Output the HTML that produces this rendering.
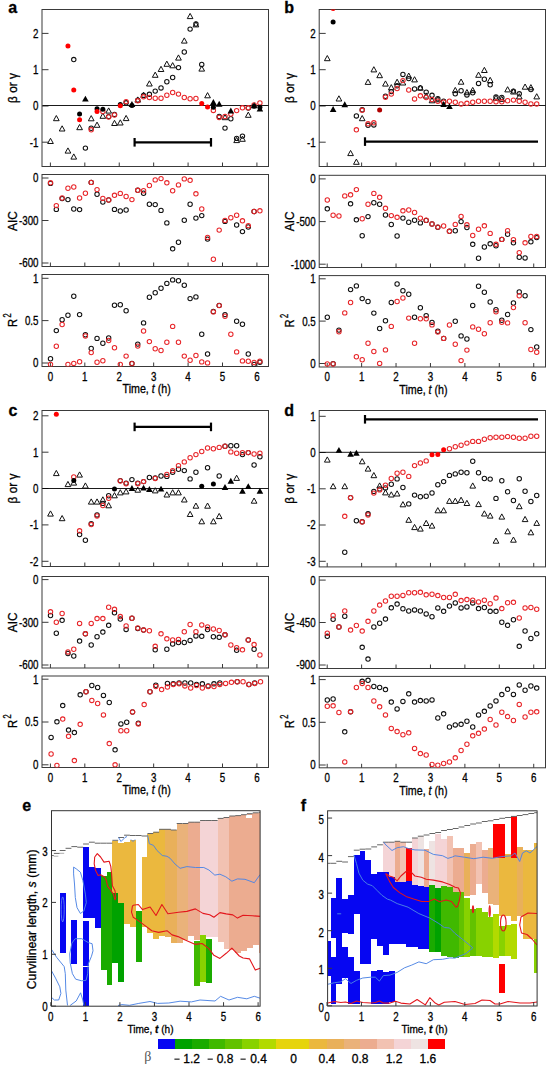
<!DOCTYPE html>
<html><head><meta charset="utf-8"><style>
html,body{margin:0;padding:0;background:#fff;}
svg{display:block;}
text{stroke:#000;stroke-width:0.3px;}
</style></head><body>
<svg width="549" height="1066" viewBox="0 0 549 1066">
<rect width="549" height="1066" fill="#fff"/>
<text x="8.20" y="13.20" font-family="Liberation Sans" font-size="16" text-anchor="start" font-weight="bold" fill="#000" >a</text>
<text x="284.20" y="13.20" font-family="Liberation Sans" font-size="16" text-anchor="start" font-weight="bold" fill="#000" >b</text>
<text x="8.40" y="415.50" font-family="Liberation Sans" font-size="16" text-anchor="start" font-weight="bold" fill="#000" >c</text>
<text x="284.30" y="415.50" font-family="Liberation Sans" font-size="16" text-anchor="start" font-weight="bold" fill="#000" >d</text>
<rect x="42.0" y="9.5" width="226.5" height="157.0" fill="none" stroke="#3a3a3a" stroke-width="1"/>
<line x1="42.00" y1="33.40" x2="48.50" y2="33.40" stroke="#3a3a3a" stroke-width="1" stroke-linecap="butt"/>
<text transform="translate(38.50,37.80) scale(0.8,1)" font-family="Liberation Sans" font-size="12.2" text-anchor="end" font-weight="normal" fill="#000" >2</text>
<line x1="42.00" y1="69.70" x2="48.50" y2="69.70" stroke="#3a3a3a" stroke-width="1" stroke-linecap="butt"/>
<text transform="translate(38.50,74.10) scale(0.8,1)" font-family="Liberation Sans" font-size="12.2" text-anchor="end" font-weight="normal" fill="#000" >1</text>
<line x1="42.00" y1="106.00" x2="48.50" y2="106.00" stroke="#3a3a3a" stroke-width="1" stroke-linecap="butt"/>
<text transform="translate(38.50,110.40) scale(0.8,1)" font-family="Liberation Sans" font-size="12.2" text-anchor="end" font-weight="normal" fill="#000" >0</text>
<line x1="42.00" y1="142.20" x2="48.50" y2="142.20" stroke="#3a3a3a" stroke-width="1" stroke-linecap="butt"/>
<text transform="translate(38.50,146.60) scale(0.8,1)" font-family="Liberation Sans" font-size="12.2" text-anchor="end" font-weight="normal" fill="#000" >-1</text>
<line x1="50.40" y1="166.50" x2="50.40" y2="162.50" stroke="#3a3a3a" stroke-width="1" stroke-linecap="butt"/>
<line x1="84.82" y1="166.50" x2="84.82" y2="162.50" stroke="#3a3a3a" stroke-width="1" stroke-linecap="butt"/>
<line x1="119.24" y1="166.50" x2="119.24" y2="162.50" stroke="#3a3a3a" stroke-width="1" stroke-linecap="butt"/>
<line x1="153.66" y1="166.50" x2="153.66" y2="162.50" stroke="#3a3a3a" stroke-width="1" stroke-linecap="butt"/>
<line x1="188.08" y1="166.50" x2="188.08" y2="162.50" stroke="#3a3a3a" stroke-width="1" stroke-linecap="butt"/>
<line x1="222.50" y1="166.50" x2="222.50" y2="162.50" stroke="#3a3a3a" stroke-width="1" stroke-linecap="butt"/>
<line x1="256.92" y1="166.50" x2="256.92" y2="162.50" stroke="#3a3a3a" stroke-width="1" stroke-linecap="butt"/>
<rect x="42.0" y="174.5" width="226.5" height="92.0" fill="none" stroke="#3a3a3a" stroke-width="1"/>
<line x1="42.00" y1="178.00" x2="48.50" y2="178.00" stroke="#3a3a3a" stroke-width="1" stroke-linecap="butt"/>
<text transform="translate(38.50,182.40) scale(0.8,1)" font-family="Liberation Sans" font-size="12.2" text-anchor="end" font-weight="normal" fill="#000" >0</text>
<line x1="42.00" y1="220.50" x2="48.50" y2="220.50" stroke="#3a3a3a" stroke-width="1" stroke-linecap="butt"/>
<text transform="translate(38.50,224.90) scale(0.8,1)" font-family="Liberation Sans" font-size="12.2" text-anchor="end" font-weight="normal" fill="#000" >-300</text>
<line x1="42.00" y1="263.00" x2="48.50" y2="263.00" stroke="#3a3a3a" stroke-width="1" stroke-linecap="butt"/>
<text transform="translate(38.50,267.40) scale(0.8,1)" font-family="Liberation Sans" font-size="12.2" text-anchor="end" font-weight="normal" fill="#000" >-600</text>
<line x1="50.40" y1="266.50" x2="50.40" y2="262.50" stroke="#3a3a3a" stroke-width="1" stroke-linecap="butt"/>
<line x1="84.82" y1="266.50" x2="84.82" y2="262.50" stroke="#3a3a3a" stroke-width="1" stroke-linecap="butt"/>
<line x1="119.24" y1="266.50" x2="119.24" y2="262.50" stroke="#3a3a3a" stroke-width="1" stroke-linecap="butt"/>
<line x1="153.66" y1="266.50" x2="153.66" y2="262.50" stroke="#3a3a3a" stroke-width="1" stroke-linecap="butt"/>
<line x1="188.08" y1="266.50" x2="188.08" y2="262.50" stroke="#3a3a3a" stroke-width="1" stroke-linecap="butt"/>
<line x1="222.50" y1="266.50" x2="222.50" y2="262.50" stroke="#3a3a3a" stroke-width="1" stroke-linecap="butt"/>
<line x1="256.92" y1="266.50" x2="256.92" y2="262.50" stroke="#3a3a3a" stroke-width="1" stroke-linecap="butt"/>
<rect x="42.0" y="274.5" width="226.5" height="92.0" fill="none" stroke="#3a3a3a" stroke-width="1"/>
<line x1="42.00" y1="278.30" x2="48.50" y2="278.30" stroke="#3a3a3a" stroke-width="1" stroke-linecap="butt"/>
<text transform="translate(38.50,282.70) scale(0.8,1)" font-family="Liberation Sans" font-size="12.2" text-anchor="end" font-weight="normal" fill="#000" >1</text>
<line x1="42.00" y1="320.60" x2="48.50" y2="320.60" stroke="#3a3a3a" stroke-width="1" stroke-linecap="butt"/>
<text transform="translate(38.50,325.00) scale(0.8,1)" font-family="Liberation Sans" font-size="12.2" text-anchor="end" font-weight="normal" fill="#000" >0.5</text>
<line x1="42.00" y1="363.00" x2="48.50" y2="363.00" stroke="#3a3a3a" stroke-width="1" stroke-linecap="butt"/>
<text transform="translate(38.50,367.40) scale(0.8,1)" font-family="Liberation Sans" font-size="12.2" text-anchor="end" font-weight="normal" fill="#000" >0</text>
<line x1="50.40" y1="366.50" x2="50.40" y2="362.50" stroke="#3a3a3a" stroke-width="1" stroke-linecap="butt"/>
<line x1="84.82" y1="366.50" x2="84.82" y2="362.50" stroke="#3a3a3a" stroke-width="1" stroke-linecap="butt"/>
<line x1="119.24" y1="366.50" x2="119.24" y2="362.50" stroke="#3a3a3a" stroke-width="1" stroke-linecap="butt"/>
<line x1="153.66" y1="366.50" x2="153.66" y2="362.50" stroke="#3a3a3a" stroke-width="1" stroke-linecap="butt"/>
<line x1="188.08" y1="366.50" x2="188.08" y2="362.50" stroke="#3a3a3a" stroke-width="1" stroke-linecap="butt"/>
<line x1="222.50" y1="366.50" x2="222.50" y2="362.50" stroke="#3a3a3a" stroke-width="1" stroke-linecap="butt"/>
<line x1="256.92" y1="366.50" x2="256.92" y2="362.50" stroke="#3a3a3a" stroke-width="1" stroke-linecap="butt"/>
<text transform="translate(50.40,380.50) scale(0.8,1)" font-family="Liberation Sans" font-size="12.2" text-anchor="middle" font-weight="normal" fill="#000" >0</text>
<text transform="translate(84.82,380.50) scale(0.8,1)" font-family="Liberation Sans" font-size="12.2" text-anchor="middle" font-weight="normal" fill="#000" >1</text>
<text transform="translate(119.24,380.50) scale(0.8,1)" font-family="Liberation Sans" font-size="12.2" text-anchor="middle" font-weight="normal" fill="#000" >2</text>
<text transform="translate(153.66,380.50) scale(0.8,1)" font-family="Liberation Sans" font-size="12.2" text-anchor="middle" font-weight="normal" fill="#000" >3</text>
<text transform="translate(188.08,380.50) scale(0.8,1)" font-family="Liberation Sans" font-size="12.2" text-anchor="middle" font-weight="normal" fill="#000" >4</text>
<text transform="translate(222.50,380.50) scale(0.8,1)" font-family="Liberation Sans" font-size="12.2" text-anchor="middle" font-weight="normal" fill="#000" >5</text>
<text transform="translate(256.92,380.50) scale(0.8,1)" font-family="Liberation Sans" font-size="12.2" text-anchor="middle" font-weight="normal" fill="#000" >6</text>
<text transform="translate(146.66,393.30) scale(0.89,1)" font-family="Liberation Sans" font-size="12" text-anchor="middle">Time, <tspan font-style="italic">t</tspan> (h)</text>
<text transform="translate(17.30,88.00) rotate(-90) scale(0.88,1)" font-family="Liberation Sans" font-size="13.5" text-anchor="middle">β or γ</text>
<text transform="translate(17.20,221.00) rotate(-90) scale(0.88,1)" font-family="Liberation Sans" font-size="13.5" text-anchor="middle">AIC</text>
<text transform="translate(16.80,326.90) rotate(-90) scale(0.83,1)" font-family="Liberation Sans" font-size="13.5">R</text>
<text transform="translate(10.90,317.40) rotate(-90) scale(0.68,1)" font-family="Liberation Sans" font-size="11">2</text>
<rect x="319.2" y="9.5" width="226.3" height="157.0" fill="none" stroke="#3a3a3a" stroke-width="1"/>
<line x1="319.20" y1="33.40" x2="325.70" y2="33.40" stroke="#3a3a3a" stroke-width="1" stroke-linecap="butt"/>
<text transform="translate(315.70,37.80) scale(0.8,1)" font-family="Liberation Sans" font-size="12.2" text-anchor="end" font-weight="normal" fill="#000" >2</text>
<line x1="319.20" y1="69.70" x2="325.70" y2="69.70" stroke="#3a3a3a" stroke-width="1" stroke-linecap="butt"/>
<text transform="translate(315.70,74.10) scale(0.8,1)" font-family="Liberation Sans" font-size="12.2" text-anchor="end" font-weight="normal" fill="#000" >1</text>
<line x1="319.20" y1="106.00" x2="325.70" y2="106.00" stroke="#3a3a3a" stroke-width="1" stroke-linecap="butt"/>
<text transform="translate(315.70,110.40) scale(0.8,1)" font-family="Liberation Sans" font-size="12.2" text-anchor="end" font-weight="normal" fill="#000" >0</text>
<line x1="319.20" y1="142.20" x2="325.70" y2="142.20" stroke="#3a3a3a" stroke-width="1" stroke-linecap="butt"/>
<text transform="translate(315.70,146.60) scale(0.8,1)" font-family="Liberation Sans" font-size="12.2" text-anchor="end" font-weight="normal" fill="#000" >-1</text>
<line x1="327.20" y1="166.50" x2="327.20" y2="162.50" stroke="#3a3a3a" stroke-width="1" stroke-linecap="butt"/>
<line x1="361.62" y1="166.50" x2="361.62" y2="162.50" stroke="#3a3a3a" stroke-width="1" stroke-linecap="butt"/>
<line x1="396.04" y1="166.50" x2="396.04" y2="162.50" stroke="#3a3a3a" stroke-width="1" stroke-linecap="butt"/>
<line x1="430.46" y1="166.50" x2="430.46" y2="162.50" stroke="#3a3a3a" stroke-width="1" stroke-linecap="butt"/>
<line x1="464.88" y1="166.50" x2="464.88" y2="162.50" stroke="#3a3a3a" stroke-width="1" stroke-linecap="butt"/>
<line x1="499.30" y1="166.50" x2="499.30" y2="162.50" stroke="#3a3a3a" stroke-width="1" stroke-linecap="butt"/>
<line x1="533.72" y1="166.50" x2="533.72" y2="162.50" stroke="#3a3a3a" stroke-width="1" stroke-linecap="butt"/>
<rect x="319.2" y="175.3" width="226.3" height="92.19999999999999" fill="none" stroke="#3a3a3a" stroke-width="1"/>
<line x1="319.20" y1="178.90" x2="325.70" y2="178.90" stroke="#3a3a3a" stroke-width="1" stroke-linecap="butt"/>
<text transform="translate(315.70,183.30) scale(0.8,1)" font-family="Liberation Sans" font-size="12.2" text-anchor="end" font-weight="normal" fill="#000" >0</text>
<line x1="319.20" y1="221.60" x2="325.70" y2="221.60" stroke="#3a3a3a" stroke-width="1" stroke-linecap="butt"/>
<text transform="translate(315.70,226.00) scale(0.8,1)" font-family="Liberation Sans" font-size="12.2" text-anchor="end" font-weight="normal" fill="#000" >-500</text>
<line x1="319.20" y1="264.20" x2="325.70" y2="264.20" stroke="#3a3a3a" stroke-width="1" stroke-linecap="butt"/>
<text transform="translate(315.70,268.60) scale(0.8,1)" font-family="Liberation Sans" font-size="12.2" text-anchor="end" font-weight="normal" fill="#000" >-1000</text>
<line x1="327.20" y1="267.50" x2="327.20" y2="263.50" stroke="#3a3a3a" stroke-width="1" stroke-linecap="butt"/>
<line x1="361.62" y1="267.50" x2="361.62" y2="263.50" stroke="#3a3a3a" stroke-width="1" stroke-linecap="butt"/>
<line x1="396.04" y1="267.50" x2="396.04" y2="263.50" stroke="#3a3a3a" stroke-width="1" stroke-linecap="butt"/>
<line x1="430.46" y1="267.50" x2="430.46" y2="263.50" stroke="#3a3a3a" stroke-width="1" stroke-linecap="butt"/>
<line x1="464.88" y1="267.50" x2="464.88" y2="263.50" stroke="#3a3a3a" stroke-width="1" stroke-linecap="butt"/>
<line x1="499.30" y1="267.50" x2="499.30" y2="263.50" stroke="#3a3a3a" stroke-width="1" stroke-linecap="butt"/>
<line x1="533.72" y1="267.50" x2="533.72" y2="263.50" stroke="#3a3a3a" stroke-width="1" stroke-linecap="butt"/>
<rect x="319.2" y="275.6" width="226.3" height="91.39999999999998" fill="none" stroke="#3a3a3a" stroke-width="1"/>
<line x1="319.20" y1="278.80" x2="325.70" y2="278.80" stroke="#3a3a3a" stroke-width="1" stroke-linecap="butt"/>
<text transform="translate(315.70,283.20) scale(0.8,1)" font-family="Liberation Sans" font-size="12.2" text-anchor="end" font-weight="normal" fill="#000" >1</text>
<line x1="319.20" y1="321.10" x2="325.70" y2="321.10" stroke="#3a3a3a" stroke-width="1" stroke-linecap="butt"/>
<text transform="translate(315.70,325.50) scale(0.8,1)" font-family="Liberation Sans" font-size="12.2" text-anchor="end" font-weight="normal" fill="#000" >0.5</text>
<line x1="319.20" y1="363.50" x2="325.70" y2="363.50" stroke="#3a3a3a" stroke-width="1" stroke-linecap="butt"/>
<text transform="translate(315.70,367.90) scale(0.8,1)" font-family="Liberation Sans" font-size="12.2" text-anchor="end" font-weight="normal" fill="#000" >0</text>
<line x1="327.20" y1="367.00" x2="327.20" y2="363.00" stroke="#3a3a3a" stroke-width="1" stroke-linecap="butt"/>
<line x1="361.62" y1="367.00" x2="361.62" y2="363.00" stroke="#3a3a3a" stroke-width="1" stroke-linecap="butt"/>
<line x1="396.04" y1="367.00" x2="396.04" y2="363.00" stroke="#3a3a3a" stroke-width="1" stroke-linecap="butt"/>
<line x1="430.46" y1="367.00" x2="430.46" y2="363.00" stroke="#3a3a3a" stroke-width="1" stroke-linecap="butt"/>
<line x1="464.88" y1="367.00" x2="464.88" y2="363.00" stroke="#3a3a3a" stroke-width="1" stroke-linecap="butt"/>
<line x1="499.30" y1="367.00" x2="499.30" y2="363.00" stroke="#3a3a3a" stroke-width="1" stroke-linecap="butt"/>
<line x1="533.72" y1="367.00" x2="533.72" y2="363.00" stroke="#3a3a3a" stroke-width="1" stroke-linecap="butt"/>
<text transform="translate(327.20,381.00) scale(0.8,1)" font-family="Liberation Sans" font-size="12.2" text-anchor="middle" font-weight="normal" fill="#000" >0</text>
<text transform="translate(361.62,381.00) scale(0.8,1)" font-family="Liberation Sans" font-size="12.2" text-anchor="middle" font-weight="normal" fill="#000" >1</text>
<text transform="translate(396.04,381.00) scale(0.8,1)" font-family="Liberation Sans" font-size="12.2" text-anchor="middle" font-weight="normal" fill="#000" >2</text>
<text transform="translate(430.46,381.00) scale(0.8,1)" font-family="Liberation Sans" font-size="12.2" text-anchor="middle" font-weight="normal" fill="#000" >3</text>
<text transform="translate(464.88,381.00) scale(0.8,1)" font-family="Liberation Sans" font-size="12.2" text-anchor="middle" font-weight="normal" fill="#000" >4</text>
<text transform="translate(499.30,381.00) scale(0.8,1)" font-family="Liberation Sans" font-size="12.2" text-anchor="middle" font-weight="normal" fill="#000" >5</text>
<text transform="translate(533.72,381.00) scale(0.8,1)" font-family="Liberation Sans" font-size="12.2" text-anchor="middle" font-weight="normal" fill="#000" >6</text>
<text transform="translate(423.46,393.80) scale(0.89,1)" font-family="Liberation Sans" font-size="12" text-anchor="middle">Time, <tspan font-style="italic">t</tspan> (h)</text>
<text transform="translate(294.20,88.00) rotate(-90) scale(0.88,1)" font-family="Liberation Sans" font-size="13.5" text-anchor="middle">β or γ</text>
<text transform="translate(294.10,221.30) rotate(-90) scale(0.88,1)" font-family="Liberation Sans" font-size="13.5" text-anchor="middle">AIC</text>
<text transform="translate(293.70,327.40) rotate(-90) scale(0.83,1)" font-family="Liberation Sans" font-size="13.5">R</text>
<text transform="translate(287.80,317.90) rotate(-90) scale(0.68,1)" font-family="Liberation Sans" font-size="11">2</text>
<rect x="42.0" y="410.5" width="226.5" height="156.0" fill="none" stroke="#3a3a3a" stroke-width="1"/>
<line x1="42.00" y1="415.80" x2="48.50" y2="415.80" stroke="#3a3a3a" stroke-width="1" stroke-linecap="butt"/>
<text transform="translate(38.50,420.20) scale(0.8,1)" font-family="Liberation Sans" font-size="12.2" text-anchor="end" font-weight="normal" fill="#000" >2</text>
<line x1="42.00" y1="452.20" x2="48.50" y2="452.20" stroke="#3a3a3a" stroke-width="1" stroke-linecap="butt"/>
<text transform="translate(38.50,456.60) scale(0.8,1)" font-family="Liberation Sans" font-size="12.2" text-anchor="end" font-weight="normal" fill="#000" >1</text>
<line x1="42.00" y1="488.50" x2="48.50" y2="488.50" stroke="#3a3a3a" stroke-width="1" stroke-linecap="butt"/>
<text transform="translate(38.50,492.90) scale(0.8,1)" font-family="Liberation Sans" font-size="12.2" text-anchor="end" font-weight="normal" fill="#000" >0</text>
<line x1="42.00" y1="524.90" x2="48.50" y2="524.90" stroke="#3a3a3a" stroke-width="1" stroke-linecap="butt"/>
<text transform="translate(38.50,529.30) scale(0.8,1)" font-family="Liberation Sans" font-size="12.2" text-anchor="end" font-weight="normal" fill="#000" >-1</text>
<line x1="42.00" y1="561.30" x2="48.50" y2="561.30" stroke="#3a3a3a" stroke-width="1" stroke-linecap="butt"/>
<text transform="translate(38.50,565.70) scale(0.8,1)" font-family="Liberation Sans" font-size="12.2" text-anchor="end" font-weight="normal" fill="#000" >-2</text>
<line x1="50.40" y1="566.50" x2="50.40" y2="562.50" stroke="#3a3a3a" stroke-width="1" stroke-linecap="butt"/>
<line x1="84.82" y1="566.50" x2="84.82" y2="562.50" stroke="#3a3a3a" stroke-width="1" stroke-linecap="butt"/>
<line x1="119.24" y1="566.50" x2="119.24" y2="562.50" stroke="#3a3a3a" stroke-width="1" stroke-linecap="butt"/>
<line x1="153.66" y1="566.50" x2="153.66" y2="562.50" stroke="#3a3a3a" stroke-width="1" stroke-linecap="butt"/>
<line x1="188.08" y1="566.50" x2="188.08" y2="562.50" stroke="#3a3a3a" stroke-width="1" stroke-linecap="butt"/>
<line x1="222.50" y1="566.50" x2="222.50" y2="562.50" stroke="#3a3a3a" stroke-width="1" stroke-linecap="butt"/>
<line x1="256.92" y1="566.50" x2="256.92" y2="562.50" stroke="#3a3a3a" stroke-width="1" stroke-linecap="butt"/>
<rect x="42.0" y="576.5" width="226.5" height="91.5" fill="none" stroke="#3a3a3a" stroke-width="1"/>
<line x1="42.00" y1="579.60" x2="48.50" y2="579.60" stroke="#3a3a3a" stroke-width="1" stroke-linecap="butt"/>
<text transform="translate(38.50,584.00) scale(0.8,1)" font-family="Liberation Sans" font-size="12.2" text-anchor="end" font-weight="normal" fill="#000" >0</text>
<line x1="42.00" y1="622.30" x2="48.50" y2="622.30" stroke="#3a3a3a" stroke-width="1" stroke-linecap="butt"/>
<text transform="translate(38.50,626.70) scale(0.8,1)" font-family="Liberation Sans" font-size="12.2" text-anchor="end" font-weight="normal" fill="#000" >-300</text>
<line x1="42.00" y1="665.00" x2="48.50" y2="665.00" stroke="#3a3a3a" stroke-width="1" stroke-linecap="butt"/>
<text transform="translate(38.50,669.40) scale(0.8,1)" font-family="Liberation Sans" font-size="12.2" text-anchor="end" font-weight="normal" fill="#000" >-600</text>
<line x1="50.40" y1="668.00" x2="50.40" y2="664.00" stroke="#3a3a3a" stroke-width="1" stroke-linecap="butt"/>
<line x1="84.82" y1="668.00" x2="84.82" y2="664.00" stroke="#3a3a3a" stroke-width="1" stroke-linecap="butt"/>
<line x1="119.24" y1="668.00" x2="119.24" y2="664.00" stroke="#3a3a3a" stroke-width="1" stroke-linecap="butt"/>
<line x1="153.66" y1="668.00" x2="153.66" y2="664.00" stroke="#3a3a3a" stroke-width="1" stroke-linecap="butt"/>
<line x1="188.08" y1="668.00" x2="188.08" y2="664.00" stroke="#3a3a3a" stroke-width="1" stroke-linecap="butt"/>
<line x1="222.50" y1="668.00" x2="222.50" y2="664.00" stroke="#3a3a3a" stroke-width="1" stroke-linecap="butt"/>
<line x1="256.92" y1="668.00" x2="256.92" y2="664.00" stroke="#3a3a3a" stroke-width="1" stroke-linecap="butt"/>
<rect x="42.0" y="676" width="226.5" height="91.5" fill="none" stroke="#3a3a3a" stroke-width="1"/>
<line x1="42.00" y1="679.20" x2="48.50" y2="679.20" stroke="#3a3a3a" stroke-width="1" stroke-linecap="butt"/>
<text transform="translate(38.50,683.60) scale(0.8,1)" font-family="Liberation Sans" font-size="12.2" text-anchor="end" font-weight="normal" fill="#000" >1</text>
<line x1="42.00" y1="722.00" x2="48.50" y2="722.00" stroke="#3a3a3a" stroke-width="1" stroke-linecap="butt"/>
<text transform="translate(38.50,726.40) scale(0.8,1)" font-family="Liberation Sans" font-size="12.2" text-anchor="end" font-weight="normal" fill="#000" >0.5</text>
<line x1="42.00" y1="764.80" x2="48.50" y2="764.80" stroke="#3a3a3a" stroke-width="1" stroke-linecap="butt"/>
<text transform="translate(38.50,769.20) scale(0.8,1)" font-family="Liberation Sans" font-size="12.2" text-anchor="end" font-weight="normal" fill="#000" >0</text>
<line x1="50.40" y1="767.50" x2="50.40" y2="763.50" stroke="#3a3a3a" stroke-width="1" stroke-linecap="butt"/>
<line x1="84.82" y1="767.50" x2="84.82" y2="763.50" stroke="#3a3a3a" stroke-width="1" stroke-linecap="butt"/>
<line x1="119.24" y1="767.50" x2="119.24" y2="763.50" stroke="#3a3a3a" stroke-width="1" stroke-linecap="butt"/>
<line x1="153.66" y1="767.50" x2="153.66" y2="763.50" stroke="#3a3a3a" stroke-width="1" stroke-linecap="butt"/>
<line x1="188.08" y1="767.50" x2="188.08" y2="763.50" stroke="#3a3a3a" stroke-width="1" stroke-linecap="butt"/>
<line x1="222.50" y1="767.50" x2="222.50" y2="763.50" stroke="#3a3a3a" stroke-width="1" stroke-linecap="butt"/>
<line x1="256.92" y1="767.50" x2="256.92" y2="763.50" stroke="#3a3a3a" stroke-width="1" stroke-linecap="butt"/>
<text transform="translate(50.40,781.50) scale(0.8,1)" font-family="Liberation Sans" font-size="12.2" text-anchor="middle" font-weight="normal" fill="#000" >0</text>
<text transform="translate(84.82,781.50) scale(0.8,1)" font-family="Liberation Sans" font-size="12.2" text-anchor="middle" font-weight="normal" fill="#000" >1</text>
<text transform="translate(119.24,781.50) scale(0.8,1)" font-family="Liberation Sans" font-size="12.2" text-anchor="middle" font-weight="normal" fill="#000" >2</text>
<text transform="translate(153.66,781.50) scale(0.8,1)" font-family="Liberation Sans" font-size="12.2" text-anchor="middle" font-weight="normal" fill="#000" >3</text>
<text transform="translate(188.08,781.50) scale(0.8,1)" font-family="Liberation Sans" font-size="12.2" text-anchor="middle" font-weight="normal" fill="#000" >4</text>
<text transform="translate(222.50,781.50) scale(0.8,1)" font-family="Liberation Sans" font-size="12.2" text-anchor="middle" font-weight="normal" fill="#000" >5</text>
<text transform="translate(256.92,781.50) scale(0.8,1)" font-family="Liberation Sans" font-size="12.2" text-anchor="middle" font-weight="normal" fill="#000" >6</text>
<text transform="translate(146.66,794.30) scale(0.89,1)" font-family="Liberation Sans" font-size="12" text-anchor="middle">Time, <tspan font-style="italic">t</tspan> (h)</text>
<text transform="translate(17.30,488.50) rotate(-90) scale(0.88,1)" font-family="Liberation Sans" font-size="13.5" text-anchor="middle">β or γ</text>
<text transform="translate(17.20,622.30) rotate(-90) scale(0.88,1)" font-family="Liberation Sans" font-size="13.5" text-anchor="middle">AIC</text>
<text transform="translate(16.80,727.90) rotate(-90) scale(0.83,1)" font-family="Liberation Sans" font-size="13.5">R</text>
<text transform="translate(10.90,718.40) rotate(-90) scale(0.68,1)" font-family="Liberation Sans" font-size="11">2</text>
<rect x="319.2" y="410.5" width="226.3" height="156.39999999999998" fill="none" stroke="#3a3a3a" stroke-width="1"/>
<line x1="319.20" y1="416.30" x2="325.70" y2="416.30" stroke="#3a3a3a" stroke-width="1" stroke-linecap="butt"/>
<text transform="translate(315.70,420.70) scale(0.8,1)" font-family="Liberation Sans" font-size="12.2" text-anchor="end" font-weight="normal" fill="#000" >1</text>
<line x1="319.20" y1="452.50" x2="325.70" y2="452.50" stroke="#3a3a3a" stroke-width="1" stroke-linecap="butt"/>
<text transform="translate(315.70,456.90) scale(0.8,1)" font-family="Liberation Sans" font-size="12.2" text-anchor="end" font-weight="normal" fill="#000" >0</text>
<line x1="319.20" y1="488.80" x2="325.70" y2="488.80" stroke="#3a3a3a" stroke-width="1" stroke-linecap="butt"/>
<text transform="translate(315.70,493.20) scale(0.8,1)" font-family="Liberation Sans" font-size="12.2" text-anchor="end" font-weight="normal" fill="#000" >-1</text>
<line x1="319.20" y1="525.00" x2="325.70" y2="525.00" stroke="#3a3a3a" stroke-width="1" stroke-linecap="butt"/>
<text transform="translate(315.70,529.40) scale(0.8,1)" font-family="Liberation Sans" font-size="12.2" text-anchor="end" font-weight="normal" fill="#000" >-2</text>
<line x1="319.20" y1="561.30" x2="325.70" y2="561.30" stroke="#3a3a3a" stroke-width="1" stroke-linecap="butt"/>
<text transform="translate(315.70,565.70) scale(0.8,1)" font-family="Liberation Sans" font-size="12.2" text-anchor="end" font-weight="normal" fill="#000" >-3</text>
<line x1="327.20" y1="566.90" x2="327.20" y2="562.90" stroke="#3a3a3a" stroke-width="1" stroke-linecap="butt"/>
<line x1="361.62" y1="566.90" x2="361.62" y2="562.90" stroke="#3a3a3a" stroke-width="1" stroke-linecap="butt"/>
<line x1="396.04" y1="566.90" x2="396.04" y2="562.90" stroke="#3a3a3a" stroke-width="1" stroke-linecap="butt"/>
<line x1="430.46" y1="566.90" x2="430.46" y2="562.90" stroke="#3a3a3a" stroke-width="1" stroke-linecap="butt"/>
<line x1="464.88" y1="566.90" x2="464.88" y2="562.90" stroke="#3a3a3a" stroke-width="1" stroke-linecap="butt"/>
<line x1="499.30" y1="566.90" x2="499.30" y2="562.90" stroke="#3a3a3a" stroke-width="1" stroke-linecap="butt"/>
<line x1="533.72" y1="566.90" x2="533.72" y2="562.90" stroke="#3a3a3a" stroke-width="1" stroke-linecap="butt"/>
<rect x="319.2" y="576.6" width="226.3" height="91.89999999999998" fill="none" stroke="#3a3a3a" stroke-width="1"/>
<line x1="319.20" y1="580.10" x2="325.70" y2="580.10" stroke="#3a3a3a" stroke-width="1" stroke-linecap="butt"/>
<text transform="translate(315.70,584.50) scale(0.8,1)" font-family="Liberation Sans" font-size="12.2" text-anchor="end" font-weight="normal" fill="#000" >0</text>
<line x1="319.20" y1="622.50" x2="325.70" y2="622.50" stroke="#3a3a3a" stroke-width="1" stroke-linecap="butt"/>
<text transform="translate(315.70,626.90) scale(0.8,1)" font-family="Liberation Sans" font-size="12.2" text-anchor="end" font-weight="normal" fill="#000" >-450</text>
<line x1="319.20" y1="665.00" x2="325.70" y2="665.00" stroke="#3a3a3a" stroke-width="1" stroke-linecap="butt"/>
<text transform="translate(315.70,669.40) scale(0.8,1)" font-family="Liberation Sans" font-size="12.2" text-anchor="end" font-weight="normal" fill="#000" >-900</text>
<line x1="327.20" y1="668.50" x2="327.20" y2="664.50" stroke="#3a3a3a" stroke-width="1" stroke-linecap="butt"/>
<line x1="361.62" y1="668.50" x2="361.62" y2="664.50" stroke="#3a3a3a" stroke-width="1" stroke-linecap="butt"/>
<line x1="396.04" y1="668.50" x2="396.04" y2="664.50" stroke="#3a3a3a" stroke-width="1" stroke-linecap="butt"/>
<line x1="430.46" y1="668.50" x2="430.46" y2="664.50" stroke="#3a3a3a" stroke-width="1" stroke-linecap="butt"/>
<line x1="464.88" y1="668.50" x2="464.88" y2="664.50" stroke="#3a3a3a" stroke-width="1" stroke-linecap="butt"/>
<line x1="499.30" y1="668.50" x2="499.30" y2="664.50" stroke="#3a3a3a" stroke-width="1" stroke-linecap="butt"/>
<line x1="533.72" y1="668.50" x2="533.72" y2="664.50" stroke="#3a3a3a" stroke-width="1" stroke-linecap="butt"/>
<rect x="319.2" y="676.4" width="226.3" height="91.39999999999998" fill="none" stroke="#3a3a3a" stroke-width="1"/>
<line x1="319.20" y1="679.60" x2="325.70" y2="679.60" stroke="#3a3a3a" stroke-width="1" stroke-linecap="butt"/>
<text transform="translate(315.70,684.00) scale(0.8,1)" font-family="Liberation Sans" font-size="12.2" text-anchor="end" font-weight="normal" fill="#000" >1</text>
<line x1="319.20" y1="722.30" x2="325.70" y2="722.30" stroke="#3a3a3a" stroke-width="1" stroke-linecap="butt"/>
<text transform="translate(315.70,726.70) scale(0.8,1)" font-family="Liberation Sans" font-size="12.2" text-anchor="end" font-weight="normal" fill="#000" >0.5</text>
<line x1="319.20" y1="765.00" x2="325.70" y2="765.00" stroke="#3a3a3a" stroke-width="1" stroke-linecap="butt"/>
<text transform="translate(315.70,769.40) scale(0.8,1)" font-family="Liberation Sans" font-size="12.2" text-anchor="end" font-weight="normal" fill="#000" >0</text>
<line x1="327.20" y1="767.80" x2="327.20" y2="763.80" stroke="#3a3a3a" stroke-width="1" stroke-linecap="butt"/>
<line x1="361.62" y1="767.80" x2="361.62" y2="763.80" stroke="#3a3a3a" stroke-width="1" stroke-linecap="butt"/>
<line x1="396.04" y1="767.80" x2="396.04" y2="763.80" stroke="#3a3a3a" stroke-width="1" stroke-linecap="butt"/>
<line x1="430.46" y1="767.80" x2="430.46" y2="763.80" stroke="#3a3a3a" stroke-width="1" stroke-linecap="butt"/>
<line x1="464.88" y1="767.80" x2="464.88" y2="763.80" stroke="#3a3a3a" stroke-width="1" stroke-linecap="butt"/>
<line x1="499.30" y1="767.80" x2="499.30" y2="763.80" stroke="#3a3a3a" stroke-width="1" stroke-linecap="butt"/>
<line x1="533.72" y1="767.80" x2="533.72" y2="763.80" stroke="#3a3a3a" stroke-width="1" stroke-linecap="butt"/>
<text transform="translate(327.20,781.80) scale(0.8,1)" font-family="Liberation Sans" font-size="12.2" text-anchor="middle" font-weight="normal" fill="#000" >0</text>
<text transform="translate(361.62,781.80) scale(0.8,1)" font-family="Liberation Sans" font-size="12.2" text-anchor="middle" font-weight="normal" fill="#000" >1</text>
<text transform="translate(396.04,781.80) scale(0.8,1)" font-family="Liberation Sans" font-size="12.2" text-anchor="middle" font-weight="normal" fill="#000" >2</text>
<text transform="translate(430.46,781.80) scale(0.8,1)" font-family="Liberation Sans" font-size="12.2" text-anchor="middle" font-weight="normal" fill="#000" >3</text>
<text transform="translate(464.88,781.80) scale(0.8,1)" font-family="Liberation Sans" font-size="12.2" text-anchor="middle" font-weight="normal" fill="#000" >4</text>
<text transform="translate(499.30,781.80) scale(0.8,1)" font-family="Liberation Sans" font-size="12.2" text-anchor="middle" font-weight="normal" fill="#000" >5</text>
<text transform="translate(533.72,781.80) scale(0.8,1)" font-family="Liberation Sans" font-size="12.2" text-anchor="middle" font-weight="normal" fill="#000" >6</text>
<text transform="translate(423.46,794.60) scale(0.89,1)" font-family="Liberation Sans" font-size="12" text-anchor="middle">Time, <tspan font-style="italic">t</tspan> (h)</text>
<text transform="translate(294.20,488.70) rotate(-90) scale(0.88,1)" font-family="Liberation Sans" font-size="13.5" text-anchor="middle">β or γ</text>
<text transform="translate(294.10,622.50) rotate(-90) scale(0.88,1)" font-family="Liberation Sans" font-size="13.5" text-anchor="middle">AIC</text>
<text transform="translate(293.70,728.20) rotate(-90) scale(0.83,1)" font-family="Liberation Sans" font-size="13.5">R</text>
<text transform="translate(287.80,718.70) rotate(-90) scale(0.68,1)" font-family="Liberation Sans" font-size="11">2</text>
<line x1="42.50" y1="105.50" x2="268.50" y2="105.50" stroke="#000" stroke-width="0.9" stroke-linecap="butt"/>
<line x1="319.50" y1="105.50" x2="545.50" y2="105.50" stroke="#000" stroke-width="0.9" stroke-linecap="butt"/>
<line x1="42.50" y1="488.50" x2="268.50" y2="488.50" stroke="#000" stroke-width="0.9" stroke-linecap="butt"/>
<line x1="319.50" y1="452.30" x2="545.50" y2="452.30" stroke="#000" stroke-width="0.9" stroke-linecap="butt"/>
<line x1="134.60" y1="142.30" x2="211.00" y2="142.30" stroke="#000" stroke-width="2.2" stroke-linecap="butt"/>
<line x1="134.60" y1="138.00" x2="134.60" y2="146.60" stroke="#000" stroke-width="2.2" stroke-linecap="butt"/>
<line x1="211.00" y1="138.00" x2="211.00" y2="146.60" stroke="#000" stroke-width="2.2" stroke-linecap="butt"/>
<line x1="365.00" y1="141.60" x2="538.00" y2="141.60" stroke="#000" stroke-width="2.2" stroke-linecap="butt"/>
<line x1="365.00" y1="137.30" x2="365.00" y2="145.90" stroke="#000" stroke-width="2.2" stroke-linecap="butt"/>
<line x1="134.60" y1="426.90" x2="211.00" y2="426.90" stroke="#000" stroke-width="2.2" stroke-linecap="butt"/>
<line x1="134.60" y1="422.60" x2="134.60" y2="431.20" stroke="#000" stroke-width="2.2" stroke-linecap="butt"/>
<line x1="211.00" y1="422.60" x2="211.00" y2="431.20" stroke="#000" stroke-width="2.2" stroke-linecap="butt"/>
<line x1="365.00" y1="419.30" x2="538.00" y2="419.30" stroke="#000" stroke-width="2.2" stroke-linecap="butt"/>
<line x1="365.00" y1="415.00" x2="365.00" y2="423.60" stroke="#000" stroke-width="2.2" stroke-linecap="butt"/>
<clipPath id="cpa1"><rect x="42.0" y="9.5" width="226.5" height="157.0"/></clipPath>
<g clip-path="url(#cpa1)">
<path d="M50.50,138.30L53.35,143.50L47.65,143.50Z" fill="none" stroke="#111" stroke-width="1" stroke-linejoin="miter"/>
<path d="M56.32,115.50L59.17,120.70L53.47,120.70Z" fill="none" stroke="#111" stroke-width="1" stroke-linejoin="miter"/>
<path d="M62.13,125.80L64.98,131.00L59.28,131.00Z" fill="none" stroke="#111" stroke-width="1" stroke-linejoin="miter"/>
<path d="M67.95,147.90L70.80,153.10L65.10,153.10Z" fill="none" stroke="#111" stroke-width="1" stroke-linejoin="miter"/>
<path d="M73.77,153.90L76.62,159.10L70.92,159.10Z" fill="none" stroke="#111" stroke-width="1" stroke-linejoin="miter"/>
<path d="M79.59,124.50L82.44,129.70L76.74,129.70Z" fill="none" stroke="#111" stroke-width="1" stroke-linejoin="miter"/>
<path d="M91.22,115.60L94.07,120.80L88.37,120.80Z" fill="none" stroke="#111" stroke-width="1" stroke-linejoin="miter"/>
<path d="M97.04,122.10L99.89,127.30L94.19,127.30Z" fill="none" stroke="#111" stroke-width="1" stroke-linejoin="miter"/>
<path d="M102.85,113.10L105.70,118.30L100.00,118.30Z" fill="none" stroke="#111" stroke-width="1" stroke-linejoin="miter"/>
<path d="M108.67,107.90L111.52,113.10L105.82,113.10Z" fill="none" stroke="#111" stroke-width="1" stroke-linejoin="miter"/>
<path d="M114.49,120.30L117.34,125.50L111.64,125.50Z" fill="none" stroke="#111" stroke-width="1" stroke-linejoin="miter"/>
<path d="M120.30,119.80L123.15,125.00L117.45,125.00Z" fill="none" stroke="#111" stroke-width="1" stroke-linejoin="miter"/>
<path d="M126.12,115.40L128.97,120.60L123.27,120.60Z" fill="none" stroke="#111" stroke-width="1" stroke-linejoin="miter"/>
<path d="M137.75,96.90L140.60,102.10L134.91,102.10Z" fill="none" stroke="#111" stroke-width="1" stroke-linejoin="miter"/>
<path d="M143.57,92.10L146.42,97.30L140.72,97.30Z" fill="none" stroke="#111" stroke-width="1" stroke-linejoin="miter"/>
<path d="M149.39,80.80L152.24,86.00L146.54,86.00Z" fill="none" stroke="#111" stroke-width="1" stroke-linejoin="miter"/>
<path d="M155.21,72.10L158.06,77.30L152.36,77.30Z" fill="none" stroke="#111" stroke-width="1" stroke-linejoin="miter"/>
<path d="M161.02,66.30L163.87,71.50L158.17,71.50Z" fill="none" stroke="#111" stroke-width="1" stroke-linejoin="miter"/>
<path d="M166.84,61.10L169.69,66.30L163.99,66.30Z" fill="none" stroke="#111" stroke-width="1" stroke-linejoin="miter"/>
<path d="M172.66,62.60L175.51,67.80L169.81,67.80Z" fill="none" stroke="#111" stroke-width="1" stroke-linejoin="miter"/>
<path d="M178.47,54.90L181.32,60.10L175.62,60.10Z" fill="none" stroke="#111" stroke-width="1" stroke-linejoin="miter"/>
<path d="M184.29,37.90L187.14,43.10L181.44,43.10Z" fill="none" stroke="#111" stroke-width="1" stroke-linejoin="miter"/>
<path d="M190.11,13.40L192.96,18.60L187.26,18.60Z" fill="none" stroke="#111" stroke-width="1" stroke-linejoin="miter"/>
<path d="M195.93,21.70L198.78,26.90L193.08,26.90Z" fill="none" stroke="#111" stroke-width="1" stroke-linejoin="miter"/>
<path d="M201.74,65.90L204.59,71.10L198.89,71.10Z" fill="none" stroke="#111" stroke-width="1" stroke-linejoin="miter"/>
<path d="M207.56,92.60L210.41,97.80L204.71,97.80Z" fill="none" stroke="#111" stroke-width="1" stroke-linejoin="miter"/>
<path d="M225.01,114.50L227.86,119.70L222.16,119.70Z" fill="none" stroke="#111" stroke-width="1" stroke-linejoin="miter"/>
<path d="M236.64,137.40L239.49,142.60L233.79,142.60Z" fill="none" stroke="#111" stroke-width="1" stroke-linejoin="miter"/>
<path d="M242.46,136.10L245.31,141.30L239.61,141.30Z" fill="none" stroke="#111" stroke-width="1" stroke-linejoin="miter"/>
<path d="M248.28,112.10L251.13,117.30L245.43,117.30Z" fill="none" stroke="#111" stroke-width="1" stroke-linejoin="miter"/>
<circle cx="73.77" cy="59.60" r="2.2" fill="none" stroke="#111" stroke-width="1.05"/>
<circle cx="85.40" cy="148.10" r="2.2" fill="none" stroke="#111" stroke-width="1.05"/>
<circle cx="91.22" cy="128.20" r="2.2" fill="none" stroke="#111" stroke-width="1.05"/>
<circle cx="108.67" cy="116.60" r="2.2" fill="none" stroke="#111" stroke-width="1.05"/>
<circle cx="114.49" cy="114.40" r="2.2" fill="none" stroke="#111" stroke-width="1.05"/>
<circle cx="126.12" cy="102.80" r="2.2" fill="none" stroke="#111" stroke-width="1.05"/>
<circle cx="137.75" cy="100.20" r="2.2" fill="none" stroke="#111" stroke-width="1.05"/>
<circle cx="143.57" cy="95.40" r="2.2" fill="none" stroke="#111" stroke-width="1.05"/>
<circle cx="149.39" cy="94.30" r="2.2" fill="none" stroke="#111" stroke-width="1.05"/>
<circle cx="155.21" cy="91.10" r="2.2" fill="none" stroke="#111" stroke-width="1.05"/>
<circle cx="161.02" cy="87.90" r="2.2" fill="none" stroke="#111" stroke-width="1.05"/>
<circle cx="166.84" cy="81.70" r="2.2" fill="none" stroke="#111" stroke-width="1.05"/>
<circle cx="172.66" cy="77.50" r="2.2" fill="none" stroke="#111" stroke-width="1.05"/>
<circle cx="178.47" cy="67.60" r="2.2" fill="none" stroke="#111" stroke-width="1.05"/>
<circle cx="184.29" cy="52.00" r="2.2" fill="none" stroke="#111" stroke-width="1.05"/>
<circle cx="190.11" cy="29.10" r="2.2" fill="none" stroke="#111" stroke-width="1.05"/>
<circle cx="195.93" cy="24.00" r="2.2" fill="none" stroke="#111" stroke-width="1.05"/>
<circle cx="201.74" cy="64.40" r="2.2" fill="none" stroke="#111" stroke-width="1.05"/>
<circle cx="219.19" cy="116.50" r="2.2" fill="none" stroke="#111" stroke-width="1.05"/>
<circle cx="225.01" cy="128.10" r="2.2" fill="none" stroke="#111" stroke-width="1.05"/>
<circle cx="230.83" cy="118.70" r="2.2" fill="none" stroke="#111" stroke-width="1.05"/>
<circle cx="236.64" cy="138.40" r="2.2" fill="none" stroke="#111" stroke-width="1.05"/>
<circle cx="242.46" cy="136.10" r="2.2" fill="none" stroke="#111" stroke-width="1.05"/>
<circle cx="248.28" cy="108.00" r="2.2" fill="none" stroke="#111" stroke-width="1.05"/>
<circle cx="91.22" cy="129.80" r="2.2" fill="none" stroke="#e8262a" stroke-width="1.05"/>
<circle cx="102.85" cy="111.50" r="2.2" fill="none" stroke="#e8262a" stroke-width="1.05"/>
<circle cx="108.67" cy="117.00" r="2.2" fill="none" stroke="#e8262a" stroke-width="1.05"/>
<circle cx="114.49" cy="115.00" r="2.2" fill="none" stroke="#e8262a" stroke-width="1.05"/>
<circle cx="126.12" cy="101.60" r="2.2" fill="none" stroke="#e8262a" stroke-width="1.05"/>
<circle cx="137.75" cy="100.80" r="2.2" fill="none" stroke="#e8262a" stroke-width="1.05"/>
<circle cx="143.57" cy="96.80" r="2.2" fill="none" stroke="#e8262a" stroke-width="1.05"/>
<circle cx="149.39" cy="97.40" r="2.2" fill="none" stroke="#e8262a" stroke-width="1.05"/>
<circle cx="155.21" cy="98.20" r="2.2" fill="none" stroke="#e8262a" stroke-width="1.05"/>
<circle cx="161.02" cy="98.20" r="2.2" fill="none" stroke="#e8262a" stroke-width="1.05"/>
<circle cx="166.84" cy="95.20" r="2.2" fill="none" stroke="#e8262a" stroke-width="1.05"/>
<circle cx="172.66" cy="92.50" r="2.2" fill="none" stroke="#e8262a" stroke-width="1.05"/>
<circle cx="178.47" cy="94.10" r="2.2" fill="none" stroke="#e8262a" stroke-width="1.05"/>
<circle cx="184.29" cy="97.50" r="2.2" fill="none" stroke="#e8262a" stroke-width="1.05"/>
<circle cx="190.11" cy="98.70" r="2.2" fill="none" stroke="#e8262a" stroke-width="1.05"/>
<circle cx="195.93" cy="98.50" r="2.2" fill="none" stroke="#e8262a" stroke-width="1.05"/>
<circle cx="213.38" cy="110.40" r="2.2" fill="none" stroke="#e8262a" stroke-width="1.05"/>
<circle cx="219.19" cy="117.40" r="2.2" fill="none" stroke="#e8262a" stroke-width="1.05"/>
<circle cx="225.01" cy="116.50" r="2.2" fill="none" stroke="#e8262a" stroke-width="1.05"/>
<circle cx="230.83" cy="114.10" r="2.2" fill="none" stroke="#e8262a" stroke-width="1.05"/>
<circle cx="236.64" cy="110.60" r="2.2" fill="none" stroke="#e8262a" stroke-width="1.05"/>
<circle cx="242.46" cy="107.80" r="2.2" fill="none" stroke="#e8262a" stroke-width="1.05"/>
<circle cx="248.28" cy="107.80" r="2.2" fill="none" stroke="#e8262a" stroke-width="1.05"/>
<circle cx="254.09" cy="105.00" r="2.2" fill="none" stroke="#e8262a" stroke-width="1.05"/>
<circle cx="259.91" cy="103.00" r="2.2" fill="none" stroke="#e8262a" stroke-width="1.05"/>
<path d="M85.40,95.70L88.70,101.60L82.10,101.60Z" fill="#000"/>
<path d="M131.94,101.10L135.24,107.00L128.64,107.00Z" fill="#000"/>
<path d="M213.38,99.10L216.68,105.00L210.08,105.00Z" fill="#000"/>
<path d="M219.19,100.80L222.49,106.70L215.89,106.70Z" fill="#000"/>
<path d="M230.83,107.60L234.13,113.50L227.53,113.50Z" fill="#000"/>
<path d="M254.09,102.30L257.39,108.20L250.79,108.20Z" fill="#000"/>
<path d="M259.91,105.70L263.21,111.60L256.61,111.60Z" fill="#000"/>
<circle cx="79.59" cy="113.90" r="2.5" fill="#000"/>
<circle cx="97.04" cy="108.80" r="2.5" fill="#000"/>
<circle cx="102.85" cy="109.30" r="2.5" fill="#000"/>
<circle cx="120.30" cy="104.40" r="2.5" fill="#000"/>
<circle cx="131.94" cy="105.60" r="2.5" fill="#000"/>
<circle cx="213.38" cy="107.30" r="2.5" fill="#000"/>
<circle cx="254.09" cy="106.20" r="2.5" fill="#000"/>
<circle cx="259.91" cy="107.30" r="2.5" fill="#000"/>
<circle cx="67.95" cy="46.00" r="2.5" fill="#f00"/>
<circle cx="73.77" cy="90.00" r="2.5" fill="#f00"/>
<circle cx="79.59" cy="119.70" r="2.5" fill="#f00"/>
<circle cx="97.04" cy="111.40" r="2.5" fill="#f00"/>
<circle cx="120.30" cy="105.80" r="2.5" fill="#f00"/>
<circle cx="201.74" cy="103.60" r="2.5" fill="#f00"/>
<circle cx="207.56" cy="106.90" r="2.5" fill="#f00"/>
</g>
<clipPath id="cpa2"><rect x="42.0" y="175" width="226.5" height="91.5"/></clipPath>
<g clip-path="url(#cpa2)">
<circle cx="50.50" cy="183.40" r="2.2" fill="none" stroke="#111" stroke-width="1.05"/>
<circle cx="56.32" cy="209.40" r="2.2" fill="none" stroke="#111" stroke-width="1.05"/>
<circle cx="62.13" cy="198.60" r="2.2" fill="none" stroke="#111" stroke-width="1.05"/>
<circle cx="67.95" cy="199.60" r="2.2" fill="none" stroke="#111" stroke-width="1.05"/>
<circle cx="73.77" cy="209.00" r="2.2" fill="none" stroke="#111" stroke-width="1.05"/>
<circle cx="79.59" cy="209.60" r="2.2" fill="none" stroke="#111" stroke-width="1.05"/>
<circle cx="91.22" cy="182.40" r="2.2" fill="none" stroke="#111" stroke-width="1.05"/>
<circle cx="97.04" cy="194.20" r="2.2" fill="none" stroke="#111" stroke-width="1.05"/>
<circle cx="102.85" cy="202.10" r="2.2" fill="none" stroke="#111" stroke-width="1.05"/>
<circle cx="108.67" cy="200.00" r="2.2" fill="none" stroke="#111" stroke-width="1.05"/>
<circle cx="114.49" cy="209.40" r="2.2" fill="none" stroke="#111" stroke-width="1.05"/>
<circle cx="120.30" cy="211.00" r="2.2" fill="none" stroke="#111" stroke-width="1.05"/>
<circle cx="126.12" cy="210.00" r="2.2" fill="none" stroke="#111" stroke-width="1.05"/>
<circle cx="137.75" cy="190.30" r="2.2" fill="none" stroke="#111" stroke-width="1.05"/>
<circle cx="143.57" cy="193.20" r="2.2" fill="none" stroke="#111" stroke-width="1.05"/>
<circle cx="149.39" cy="204.20" r="2.2" fill="none" stroke="#111" stroke-width="1.05"/>
<circle cx="155.21" cy="204.60" r="2.2" fill="none" stroke="#111" stroke-width="1.05"/>
<circle cx="161.02" cy="210.40" r="2.2" fill="none" stroke="#111" stroke-width="1.05"/>
<circle cx="166.84" cy="222.90" r="2.2" fill="none" stroke="#111" stroke-width="1.05"/>
<circle cx="172.66" cy="248.80" r="2.2" fill="none" stroke="#111" stroke-width="1.05"/>
<circle cx="178.47" cy="242.20" r="2.2" fill="none" stroke="#111" stroke-width="1.05"/>
<circle cx="184.29" cy="220.20" r="2.2" fill="none" stroke="#111" stroke-width="1.05"/>
<circle cx="190.11" cy="204.20" r="2.2" fill="none" stroke="#111" stroke-width="1.05"/>
<circle cx="195.93" cy="218.10" r="2.2" fill="none" stroke="#111" stroke-width="1.05"/>
<circle cx="201.74" cy="215.60" r="2.2" fill="none" stroke="#111" stroke-width="1.05"/>
<circle cx="207.56" cy="239.10" r="2.2" fill="none" stroke="#111" stroke-width="1.05"/>
<circle cx="225.01" cy="221.40" r="2.2" fill="none" stroke="#111" stroke-width="1.05"/>
<circle cx="236.64" cy="225.00" r="2.2" fill="none" stroke="#111" stroke-width="1.05"/>
<circle cx="242.46" cy="231.60" r="2.2" fill="none" stroke="#111" stroke-width="1.05"/>
<circle cx="248.28" cy="227.00" r="2.2" fill="none" stroke="#111" stroke-width="1.05"/>
<circle cx="254.09" cy="211.50" r="2.2" fill="none" stroke="#111" stroke-width="1.05"/>
<circle cx="50.50" cy="182.80" r="2.2" fill="none" stroke="#e8262a" stroke-width="1.05"/>
<circle cx="56.32" cy="205.60" r="2.2" fill="none" stroke="#e8262a" stroke-width="1.05"/>
<circle cx="62.13" cy="198.00" r="2.2" fill="none" stroke="#e8262a" stroke-width="1.05"/>
<circle cx="67.95" cy="188.20" r="2.2" fill="none" stroke="#e8262a" stroke-width="1.05"/>
<circle cx="73.77" cy="187.00" r="2.2" fill="none" stroke="#e8262a" stroke-width="1.05"/>
<circle cx="79.59" cy="198.00" r="2.2" fill="none" stroke="#e8262a" stroke-width="1.05"/>
<circle cx="85.40" cy="193.20" r="2.2" fill="none" stroke="#e8262a" stroke-width="1.05"/>
<circle cx="91.22" cy="182.40" r="2.2" fill="none" stroke="#e8262a" stroke-width="1.05"/>
<circle cx="97.04" cy="189.60" r="2.2" fill="none" stroke="#e8262a" stroke-width="1.05"/>
<circle cx="102.85" cy="198.40" r="2.2" fill="none" stroke="#e8262a" stroke-width="1.05"/>
<circle cx="108.67" cy="200.00" r="2.2" fill="none" stroke="#e8262a" stroke-width="1.05"/>
<circle cx="114.49" cy="195.30" r="2.2" fill="none" stroke="#e8262a" stroke-width="1.05"/>
<circle cx="120.30" cy="193.40" r="2.2" fill="none" stroke="#e8262a" stroke-width="1.05"/>
<circle cx="126.12" cy="196.50" r="2.2" fill="none" stroke="#e8262a" stroke-width="1.05"/>
<circle cx="131.94" cy="199.60" r="2.2" fill="none" stroke="#e8262a" stroke-width="1.05"/>
<circle cx="137.75" cy="190.30" r="2.2" fill="none" stroke="#e8262a" stroke-width="1.05"/>
<circle cx="143.57" cy="190.70" r="2.2" fill="none" stroke="#e8262a" stroke-width="1.05"/>
<circle cx="149.39" cy="185.50" r="2.2" fill="none" stroke="#e8262a" stroke-width="1.05"/>
<circle cx="155.21" cy="179.90" r="2.2" fill="none" stroke="#e8262a" stroke-width="1.05"/>
<circle cx="161.02" cy="178.60" r="2.2" fill="none" stroke="#e8262a" stroke-width="1.05"/>
<circle cx="166.84" cy="182.80" r="2.2" fill="none" stroke="#e8262a" stroke-width="1.05"/>
<circle cx="172.66" cy="190.70" r="2.2" fill="none" stroke="#e8262a" stroke-width="1.05"/>
<circle cx="178.47" cy="184.90" r="2.2" fill="none" stroke="#e8262a" stroke-width="1.05"/>
<circle cx="184.29" cy="178.90" r="2.2" fill="none" stroke="#e8262a" stroke-width="1.05"/>
<circle cx="190.11" cy="180.30" r="2.2" fill="none" stroke="#e8262a" stroke-width="1.05"/>
<circle cx="195.93" cy="193.80" r="2.2" fill="none" stroke="#e8262a" stroke-width="1.05"/>
<circle cx="201.74" cy="209.00" r="2.2" fill="none" stroke="#e8262a" stroke-width="1.05"/>
<circle cx="207.56" cy="237.40" r="2.2" fill="none" stroke="#e8262a" stroke-width="1.05"/>
<circle cx="213.38" cy="259.20" r="2.2" fill="none" stroke="#e8262a" stroke-width="1.05"/>
<circle cx="219.19" cy="230.10" r="2.2" fill="none" stroke="#e8262a" stroke-width="1.05"/>
<circle cx="225.01" cy="220.40" r="2.2" fill="none" stroke="#e8262a" stroke-width="1.05"/>
<circle cx="230.83" cy="217.70" r="2.2" fill="none" stroke="#e8262a" stroke-width="1.05"/>
<circle cx="236.64" cy="215.20" r="2.2" fill="none" stroke="#e8262a" stroke-width="1.05"/>
<circle cx="242.46" cy="220.80" r="2.2" fill="none" stroke="#e8262a" stroke-width="1.05"/>
<circle cx="248.28" cy="225.60" r="2.2" fill="none" stroke="#e8262a" stroke-width="1.05"/>
<circle cx="254.09" cy="211.50" r="2.2" fill="none" stroke="#e8262a" stroke-width="1.05"/>
<circle cx="259.91" cy="210.80" r="2.2" fill="none" stroke="#e8262a" stroke-width="1.05"/>
</g>
<clipPath id="cpa3"><rect x="42.0" y="275" width="226.5" height="91.5"/></clipPath>
<g clip-path="url(#cpa3)">
<circle cx="50.50" cy="358.80" r="2.2" fill="none" stroke="#111" stroke-width="1.05"/>
<circle cx="56.32" cy="330.60" r="2.2" fill="none" stroke="#111" stroke-width="1.05"/>
<circle cx="62.13" cy="319.80" r="2.2" fill="none" stroke="#111" stroke-width="1.05"/>
<circle cx="67.95" cy="315.20" r="2.2" fill="none" stroke="#111" stroke-width="1.05"/>
<circle cx="73.77" cy="296.30" r="2.2" fill="none" stroke="#111" stroke-width="1.05"/>
<circle cx="79.59" cy="314.60" r="2.2" fill="none" stroke="#111" stroke-width="1.05"/>
<circle cx="85.40" cy="334.70" r="2.2" fill="none" stroke="#111" stroke-width="1.05"/>
<circle cx="91.22" cy="348.40" r="2.2" fill="none" stroke="#111" stroke-width="1.05"/>
<circle cx="97.04" cy="338.40" r="2.2" fill="none" stroke="#111" stroke-width="1.05"/>
<circle cx="102.85" cy="343.20" r="2.2" fill="none" stroke="#111" stroke-width="1.05"/>
<circle cx="108.67" cy="338.00" r="2.2" fill="none" stroke="#111" stroke-width="1.05"/>
<circle cx="114.49" cy="305.20" r="2.2" fill="none" stroke="#111" stroke-width="1.05"/>
<circle cx="120.30" cy="304.80" r="2.2" fill="none" stroke="#111" stroke-width="1.05"/>
<circle cx="126.12" cy="310.80" r="2.2" fill="none" stroke="#111" stroke-width="1.05"/>
<circle cx="131.94" cy="363.40" r="2.2" fill="none" stroke="#111" stroke-width="1.05"/>
<circle cx="137.75" cy="344.10" r="2.2" fill="none" stroke="#111" stroke-width="1.05"/>
<circle cx="143.57" cy="322.90" r="2.2" fill="none" stroke="#111" stroke-width="1.05"/>
<circle cx="149.39" cy="297.30" r="2.2" fill="none" stroke="#111" stroke-width="1.05"/>
<circle cx="155.21" cy="292.80" r="2.2" fill="none" stroke="#111" stroke-width="1.05"/>
<circle cx="161.02" cy="288.20" r="2.2" fill="none" stroke="#111" stroke-width="1.05"/>
<circle cx="166.84" cy="283.40" r="2.2" fill="none" stroke="#111" stroke-width="1.05"/>
<circle cx="172.66" cy="279.90" r="2.2" fill="none" stroke="#111" stroke-width="1.05"/>
<circle cx="178.47" cy="280.70" r="2.2" fill="none" stroke="#111" stroke-width="1.05"/>
<circle cx="184.29" cy="285.30" r="2.2" fill="none" stroke="#111" stroke-width="1.05"/>
<circle cx="190.11" cy="298.60" r="2.2" fill="none" stroke="#111" stroke-width="1.05"/>
<circle cx="195.93" cy="296.90" r="2.2" fill="none" stroke="#111" stroke-width="1.05"/>
<circle cx="201.74" cy="334.30" r="2.2" fill="none" stroke="#111" stroke-width="1.05"/>
<circle cx="207.56" cy="354.00" r="2.2" fill="none" stroke="#111" stroke-width="1.05"/>
<circle cx="213.38" cy="311.50" r="2.2" fill="none" stroke="#111" stroke-width="1.05"/>
<circle cx="219.19" cy="305.40" r="2.2" fill="none" stroke="#111" stroke-width="1.05"/>
<circle cx="225.01" cy="314.60" r="2.2" fill="none" stroke="#111" stroke-width="1.05"/>
<circle cx="236.64" cy="321.20" r="2.2" fill="none" stroke="#111" stroke-width="1.05"/>
<circle cx="242.46" cy="324.30" r="2.2" fill="none" stroke="#111" stroke-width="1.05"/>
<circle cx="248.28" cy="354.00" r="2.2" fill="none" stroke="#111" stroke-width="1.05"/>
<circle cx="254.09" cy="364.40" r="2.2" fill="none" stroke="#111" stroke-width="1.05"/>
<circle cx="259.91" cy="362.30" r="2.2" fill="none" stroke="#111" stroke-width="1.05"/>
<circle cx="50.50" cy="364.40" r="2.2" fill="none" stroke="#e8262a" stroke-width="1.05"/>
<circle cx="56.32" cy="346.30" r="2.2" fill="none" stroke="#e8262a" stroke-width="1.05"/>
<circle cx="62.13" cy="324.50" r="2.2" fill="none" stroke="#e8262a" stroke-width="1.05"/>
<circle cx="67.95" cy="364.40" r="2.2" fill="none" stroke="#e8262a" stroke-width="1.05"/>
<circle cx="73.77" cy="363.40" r="2.2" fill="none" stroke="#e8262a" stroke-width="1.05"/>
<circle cx="79.59" cy="361.70" r="2.2" fill="none" stroke="#e8262a" stroke-width="1.05"/>
<circle cx="85.40" cy="336.00" r="2.2" fill="none" stroke="#e8262a" stroke-width="1.05"/>
<circle cx="91.22" cy="352.60" r="2.2" fill="none" stroke="#e8262a" stroke-width="1.05"/>
<circle cx="97.04" cy="362.30" r="2.2" fill="none" stroke="#e8262a" stroke-width="1.05"/>
<circle cx="102.85" cy="360.70" r="2.2" fill="none" stroke="#e8262a" stroke-width="1.05"/>
<circle cx="108.67" cy="340.50" r="2.2" fill="none" stroke="#e8262a" stroke-width="1.05"/>
<circle cx="114.49" cy="347.80" r="2.2" fill="none" stroke="#e8262a" stroke-width="1.05"/>
<circle cx="120.30" cy="364.40" r="2.2" fill="none" stroke="#e8262a" stroke-width="1.05"/>
<circle cx="126.12" cy="356.10" r="2.2" fill="none" stroke="#e8262a" stroke-width="1.05"/>
<circle cx="131.94" cy="363.80" r="2.2" fill="none" stroke="#e8262a" stroke-width="1.05"/>
<circle cx="137.75" cy="346.10" r="2.2" fill="none" stroke="#e8262a" stroke-width="1.05"/>
<circle cx="143.57" cy="331.00" r="2.2" fill="none" stroke="#e8262a" stroke-width="1.05"/>
<circle cx="149.39" cy="341.60" r="2.2" fill="none" stroke="#e8262a" stroke-width="1.05"/>
<circle cx="155.21" cy="348.80" r="2.2" fill="none" stroke="#e8262a" stroke-width="1.05"/>
<circle cx="161.02" cy="350.50" r="2.2" fill="none" stroke="#e8262a" stroke-width="1.05"/>
<circle cx="166.84" cy="342.20" r="2.2" fill="none" stroke="#e8262a" stroke-width="1.05"/>
<circle cx="172.66" cy="326.40" r="2.2" fill="none" stroke="#e8262a" stroke-width="1.05"/>
<circle cx="178.47" cy="342.20" r="2.2" fill="none" stroke="#e8262a" stroke-width="1.05"/>
<circle cx="184.29" cy="356.10" r="2.2" fill="none" stroke="#e8262a" stroke-width="1.05"/>
<circle cx="190.11" cy="360.20" r="2.2" fill="none" stroke="#e8262a" stroke-width="1.05"/>
<circle cx="195.93" cy="355.50" r="2.2" fill="none" stroke="#e8262a" stroke-width="1.05"/>
<circle cx="201.74" cy="361.90" r="2.2" fill="none" stroke="#e8262a" stroke-width="1.05"/>
<circle cx="207.56" cy="362.90" r="2.2" fill="none" stroke="#e8262a" stroke-width="1.05"/>
<circle cx="213.38" cy="311.90" r="2.2" fill="none" stroke="#e8262a" stroke-width="1.05"/>
<circle cx="219.19" cy="305.60" r="2.2" fill="none" stroke="#e8262a" stroke-width="1.05"/>
<circle cx="225.01" cy="316.20" r="2.2" fill="none" stroke="#e8262a" stroke-width="1.05"/>
<circle cx="230.83" cy="334.30" r="2.2" fill="none" stroke="#e8262a" stroke-width="1.05"/>
<circle cx="236.64" cy="351.90" r="2.2" fill="none" stroke="#e8262a" stroke-width="1.05"/>
<circle cx="242.46" cy="360.90" r="2.2" fill="none" stroke="#e8262a" stroke-width="1.05"/>
<circle cx="248.28" cy="361.30" r="2.2" fill="none" stroke="#e8262a" stroke-width="1.05"/>
<circle cx="254.09" cy="362.50" r="2.2" fill="none" stroke="#e8262a" stroke-width="1.05"/>
<circle cx="259.91" cy="361.30" r="2.2" fill="none" stroke="#e8262a" stroke-width="1.05"/>
</g>
<clipPath id="cpb1"><rect x="319.2" y="9.5" width="226.3" height="157.0"/></clipPath>
<g clip-path="url(#cpb1)">
<path d="M327.30,55.50L330.15,60.70L324.45,60.70Z" fill="none" stroke="#111" stroke-width="1" stroke-linejoin="miter"/>
<path d="M338.93,95.80L341.78,101.00L336.08,101.00Z" fill="none" stroke="#111" stroke-width="1" stroke-linejoin="miter"/>
<path d="M350.57,150.40L353.42,155.60L347.72,155.60Z" fill="none" stroke="#111" stroke-width="1" stroke-linejoin="miter"/>
<path d="M356.38,159.10L359.24,164.30L353.53,164.30Z" fill="none" stroke="#111" stroke-width="1" stroke-linejoin="miter"/>
<path d="M362.20,115.50L365.05,120.70L359.35,120.70Z" fill="none" stroke="#111" stroke-width="1" stroke-linejoin="miter"/>
<path d="M368.02,79.20L370.87,84.40L365.17,84.40Z" fill="none" stroke="#111" stroke-width="1" stroke-linejoin="miter"/>
<path d="M373.84,66.70L376.69,71.90L370.99,71.90Z" fill="none" stroke="#111" stroke-width="1" stroke-linejoin="miter"/>
<path d="M379.65,72.50L382.50,77.70L376.80,77.70Z" fill="none" stroke="#111" stroke-width="1" stroke-linejoin="miter"/>
<path d="M385.47,80.90L388.32,86.10L382.62,86.10Z" fill="none" stroke="#111" stroke-width="1" stroke-linejoin="miter"/>
<path d="M391.29,84.60L394.14,89.80L388.44,89.80Z" fill="none" stroke="#111" stroke-width="1" stroke-linejoin="miter"/>
<path d="M397.10,79.20L399.95,84.40L394.25,84.40Z" fill="none" stroke="#111" stroke-width="1" stroke-linejoin="miter"/>
<path d="M402.92,79.80L405.77,85.00L400.07,85.00Z" fill="none" stroke="#111" stroke-width="1" stroke-linejoin="miter"/>
<path d="M408.74,73.00L411.59,78.20L405.89,78.20Z" fill="none" stroke="#111" stroke-width="1" stroke-linejoin="miter"/>
<path d="M414.56,76.70L417.41,81.90L411.70,81.90Z" fill="none" stroke="#111" stroke-width="1" stroke-linejoin="miter"/>
<path d="M420.37,85.00L423.22,90.20L417.52,90.20Z" fill="none" stroke="#111" stroke-width="1" stroke-linejoin="miter"/>
<path d="M426.19,92.90L429.04,98.10L423.34,98.10Z" fill="none" stroke="#111" stroke-width="1" stroke-linejoin="miter"/>
<path d="M432.01,97.60L434.86,102.80L429.16,102.80Z" fill="none" stroke="#111" stroke-width="1" stroke-linejoin="miter"/>
<path d="M437.82,96.60L440.67,101.80L434.97,101.80Z" fill="none" stroke="#111" stroke-width="1" stroke-linejoin="miter"/>
<path d="M455.27,87.40L458.12,92.60L452.42,92.60Z" fill="none" stroke="#111" stroke-width="1" stroke-linejoin="miter"/>
<path d="M461.09,79.00L463.94,84.20L458.24,84.20Z" fill="none" stroke="#111" stroke-width="1" stroke-linejoin="miter"/>
<path d="M466.91,89.50L469.76,94.70L464.06,94.70Z" fill="none" stroke="#111" stroke-width="1" stroke-linejoin="miter"/>
<path d="M472.73,87.40L475.58,92.60L469.88,92.60Z" fill="none" stroke="#111" stroke-width="1" stroke-linejoin="miter"/>
<path d="M478.54,72.10L481.39,77.30L475.69,77.30Z" fill="none" stroke="#111" stroke-width="1" stroke-linejoin="miter"/>
<path d="M484.36,67.30L487.21,72.50L481.51,72.50Z" fill="none" stroke="#111" stroke-width="1" stroke-linejoin="miter"/>
<path d="M490.18,77.30L493.03,82.50L487.33,82.50Z" fill="none" stroke="#111" stroke-width="1" stroke-linejoin="miter"/>
<path d="M495.99,95.10L498.84,100.30L493.14,100.30Z" fill="none" stroke="#111" stroke-width="1" stroke-linejoin="miter"/>
<path d="M501.81,96.20L504.66,101.40L498.96,101.40Z" fill="none" stroke="#111" stroke-width="1" stroke-linejoin="miter"/>
<path d="M507.63,86.70L510.48,91.90L504.78,91.90Z" fill="none" stroke="#111" stroke-width="1" stroke-linejoin="miter"/>
<path d="M513.44,88.80L516.29,94.00L510.59,94.00Z" fill="none" stroke="#111" stroke-width="1" stroke-linejoin="miter"/>
<path d="M519.26,93.70L522.11,98.90L516.41,98.90Z" fill="none" stroke="#111" stroke-width="1" stroke-linejoin="miter"/>
<path d="M525.08,84.00L527.93,89.20L522.23,89.20Z" fill="none" stroke="#111" stroke-width="1" stroke-linejoin="miter"/>
<path d="M530.89,84.60L533.75,89.80L528.04,89.80Z" fill="none" stroke="#111" stroke-width="1" stroke-linejoin="miter"/>
<path d="M536.71,93.70L539.56,98.90L533.86,98.90Z" fill="none" stroke="#111" stroke-width="1" stroke-linejoin="miter"/>
<circle cx="356.38" cy="115.90" r="2.2" fill="none" stroke="#111" stroke-width="1.05"/>
<circle cx="362.20" cy="109.70" r="2.2" fill="none" stroke="#111" stroke-width="1.05"/>
<circle cx="368.02" cy="125.30" r="2.2" fill="none" stroke="#111" stroke-width="1.05"/>
<circle cx="373.84" cy="124.90" r="2.2" fill="none" stroke="#111" stroke-width="1.05"/>
<circle cx="385.47" cy="96.20" r="2.2" fill="none" stroke="#111" stroke-width="1.05"/>
<circle cx="391.29" cy="91.60" r="2.2" fill="none" stroke="#111" stroke-width="1.05"/>
<circle cx="397.10" cy="85.80" r="2.2" fill="none" stroke="#111" stroke-width="1.05"/>
<circle cx="402.92" cy="74.40" r="2.2" fill="none" stroke="#111" stroke-width="1.05"/>
<circle cx="408.74" cy="78.60" r="2.2" fill="none" stroke="#111" stroke-width="1.05"/>
<circle cx="414.56" cy="88.90" r="2.2" fill="none" stroke="#111" stroke-width="1.05"/>
<circle cx="420.37" cy="87.90" r="2.2" fill="none" stroke="#111" stroke-width="1.05"/>
<circle cx="426.19" cy="92.10" r="2.2" fill="none" stroke="#111" stroke-width="1.05"/>
<circle cx="432.01" cy="95.30" r="2.2" fill="none" stroke="#111" stroke-width="1.05"/>
<circle cx="437.82" cy="98.70" r="2.2" fill="none" stroke="#111" stroke-width="1.05"/>
<circle cx="443.64" cy="101.20" r="2.2" fill="none" stroke="#111" stroke-width="1.05"/>
<circle cx="455.27" cy="93.80" r="2.2" fill="none" stroke="#111" stroke-width="1.05"/>
<circle cx="461.09" cy="90.70" r="2.2" fill="none" stroke="#111" stroke-width="1.05"/>
<circle cx="466.91" cy="94.90" r="2.2" fill="none" stroke="#111" stroke-width="1.05"/>
<circle cx="472.73" cy="92.80" r="2.2" fill="none" stroke="#111" stroke-width="1.05"/>
<circle cx="478.54" cy="83.40" r="2.2" fill="none" stroke="#111" stroke-width="1.05"/>
<circle cx="484.36" cy="79.20" r="2.2" fill="none" stroke="#111" stroke-width="1.05"/>
<circle cx="490.18" cy="84.80" r="2.2" fill="none" stroke="#111" stroke-width="1.05"/>
<circle cx="495.99" cy="97.00" r="2.2" fill="none" stroke="#111" stroke-width="1.05"/>
<circle cx="501.81" cy="97.40" r="2.2" fill="none" stroke="#111" stroke-width="1.05"/>
<circle cx="513.44" cy="91.10" r="2.2" fill="none" stroke="#111" stroke-width="1.05"/>
<circle cx="519.26" cy="93.80" r="2.2" fill="none" stroke="#111" stroke-width="1.05"/>
<circle cx="530.89" cy="89.60" r="2.2" fill="none" stroke="#111" stroke-width="1.05"/>
<circle cx="356.38" cy="129.80" r="2.2" fill="none" stroke="#e8262a" stroke-width="1.05"/>
<circle cx="362.20" cy="110.30" r="2.2" fill="none" stroke="#e8262a" stroke-width="1.05"/>
<circle cx="368.02" cy="123.80" r="2.2" fill="none" stroke="#e8262a" stroke-width="1.05"/>
<circle cx="373.84" cy="122.80" r="2.2" fill="none" stroke="#e8262a" stroke-width="1.05"/>
<circle cx="385.47" cy="97.20" r="2.2" fill="none" stroke="#e8262a" stroke-width="1.05"/>
<circle cx="391.29" cy="94.10" r="2.2" fill="none" stroke="#e8262a" stroke-width="1.05"/>
<circle cx="397.10" cy="88.50" r="2.2" fill="none" stroke="#e8262a" stroke-width="1.05"/>
<circle cx="402.92" cy="80.60" r="2.2" fill="none" stroke="#e8262a" stroke-width="1.05"/>
<circle cx="408.74" cy="90.00" r="2.2" fill="none" stroke="#e8262a" stroke-width="1.05"/>
<circle cx="414.56" cy="98.90" r="2.2" fill="none" stroke="#e8262a" stroke-width="1.05"/>
<circle cx="420.37" cy="95.80" r="2.2" fill="none" stroke="#e8262a" stroke-width="1.05"/>
<circle cx="426.19" cy="97.50" r="2.2" fill="none" stroke="#e8262a" stroke-width="1.05"/>
<circle cx="432.01" cy="99.50" r="2.2" fill="none" stroke="#e8262a" stroke-width="1.05"/>
<circle cx="437.82" cy="101.20" r="2.2" fill="none" stroke="#e8262a" stroke-width="1.05"/>
<circle cx="443.64" cy="102.20" r="2.2" fill="none" stroke="#e8262a" stroke-width="1.05"/>
<circle cx="449.46" cy="101.20" r="2.2" fill="none" stroke="#e8262a" stroke-width="1.05"/>
<circle cx="455.27" cy="102.20" r="2.2" fill="none" stroke="#e8262a" stroke-width="1.05"/>
<circle cx="461.09" cy="103.90" r="2.2" fill="none" stroke="#e8262a" stroke-width="1.05"/>
<circle cx="466.91" cy="103.30" r="2.2" fill="none" stroke="#e8262a" stroke-width="1.05"/>
<circle cx="472.73" cy="102.20" r="2.2" fill="none" stroke="#e8262a" stroke-width="1.05"/>
<circle cx="478.54" cy="101.20" r="2.2" fill="none" stroke="#e8262a" stroke-width="1.05"/>
<circle cx="484.36" cy="101.20" r="2.2" fill="none" stroke="#e8262a" stroke-width="1.05"/>
<circle cx="490.18" cy="101.20" r="2.2" fill="none" stroke="#e8262a" stroke-width="1.05"/>
<circle cx="495.99" cy="101.80" r="2.2" fill="none" stroke="#e8262a" stroke-width="1.05"/>
<circle cx="501.81" cy="101.80" r="2.2" fill="none" stroke="#e8262a" stroke-width="1.05"/>
<circle cx="507.63" cy="100.70" r="2.2" fill="none" stroke="#e8262a" stroke-width="1.05"/>
<circle cx="513.44" cy="100.10" r="2.2" fill="none" stroke="#e8262a" stroke-width="1.05"/>
<circle cx="519.26" cy="101.20" r="2.2" fill="none" stroke="#e8262a" stroke-width="1.05"/>
<circle cx="525.08" cy="102.20" r="2.2" fill="none" stroke="#e8262a" stroke-width="1.05"/>
<circle cx="530.89" cy="103.90" r="2.2" fill="none" stroke="#e8262a" stroke-width="1.05"/>
<circle cx="536.71" cy="103.90" r="2.2" fill="none" stroke="#e8262a" stroke-width="1.05"/>
<path d="M333.12,106.10L336.42,112.00L329.82,112.00Z" fill="#000"/>
<path d="M344.75,101.30L348.05,107.20L341.45,107.20Z" fill="#000"/>
<path d="M443.64,101.10L446.94,107.00L440.34,107.00Z" fill="#000"/>
<path d="M449.46,103.20L452.76,109.10L446.16,109.10Z" fill="#000"/>
<circle cx="333.12" cy="21.90" r="2.5" fill="#000"/>
<circle cx="333.12" cy="8.60" r="2.5" fill="#f00"/>
<circle cx="379.65" cy="110.00" r="2.5" fill="#b00000"/>
</g>
<clipPath id="cpb2"><rect x="319.2" y="175.3" width="226.3" height="92.19999999999999"/></clipPath>
<g clip-path="url(#cpb2)">
<circle cx="327.30" cy="208.80" r="2.2" fill="none" stroke="#111" stroke-width="1.05"/>
<circle cx="350.57" cy="203.80" r="2.2" fill="none" stroke="#111" stroke-width="1.05"/>
<circle cx="356.38" cy="219.80" r="2.2" fill="none" stroke="#111" stroke-width="1.05"/>
<circle cx="362.20" cy="235.70" r="2.2" fill="none" stroke="#111" stroke-width="1.05"/>
<circle cx="368.02" cy="216.60" r="2.2" fill="none" stroke="#111" stroke-width="1.05"/>
<circle cx="373.84" cy="202.70" r="2.2" fill="none" stroke="#111" stroke-width="1.05"/>
<circle cx="379.65" cy="204.20" r="2.2" fill="none" stroke="#111" stroke-width="1.05"/>
<circle cx="385.47" cy="215.00" r="2.2" fill="none" stroke="#111" stroke-width="1.05"/>
<circle cx="391.29" cy="224.50" r="2.2" fill="none" stroke="#111" stroke-width="1.05"/>
<circle cx="397.10" cy="236.00" r="2.2" fill="none" stroke="#111" stroke-width="1.05"/>
<circle cx="402.92" cy="218.10" r="2.2" fill="none" stroke="#111" stroke-width="1.05"/>
<circle cx="408.74" cy="222.20" r="2.2" fill="none" stroke="#111" stroke-width="1.05"/>
<circle cx="414.56" cy="220.20" r="2.2" fill="none" stroke="#111" stroke-width="1.05"/>
<circle cx="420.37" cy="222.90" r="2.2" fill="none" stroke="#111" stroke-width="1.05"/>
<circle cx="426.19" cy="220.40" r="2.2" fill="none" stroke="#111" stroke-width="1.05"/>
<circle cx="432.01" cy="224.00" r="2.2" fill="none" stroke="#111" stroke-width="1.05"/>
<circle cx="437.82" cy="227.30" r="2.2" fill="none" stroke="#111" stroke-width="1.05"/>
<circle cx="449.46" cy="231.30" r="2.2" fill="none" stroke="#111" stroke-width="1.05"/>
<circle cx="455.27" cy="230.70" r="2.2" fill="none" stroke="#111" stroke-width="1.05"/>
<circle cx="461.09" cy="221.60" r="2.2" fill="none" stroke="#111" stroke-width="1.05"/>
<circle cx="466.91" cy="227.50" r="2.2" fill="none" stroke="#111" stroke-width="1.05"/>
<circle cx="472.73" cy="244.30" r="2.2" fill="none" stroke="#111" stroke-width="1.05"/>
<circle cx="478.54" cy="258.30" r="2.2" fill="none" stroke="#111" stroke-width="1.05"/>
<circle cx="484.36" cy="247.00" r="2.2" fill="none" stroke="#111" stroke-width="1.05"/>
<circle cx="490.18" cy="243.80" r="2.2" fill="none" stroke="#111" stroke-width="1.05"/>
<circle cx="495.99" cy="245.70" r="2.2" fill="none" stroke="#111" stroke-width="1.05"/>
<circle cx="501.81" cy="239.40" r="2.2" fill="none" stroke="#111" stroke-width="1.05"/>
<circle cx="507.63" cy="234.20" r="2.2" fill="none" stroke="#111" stroke-width="1.05"/>
<circle cx="513.44" cy="242.80" r="2.2" fill="none" stroke="#111" stroke-width="1.05"/>
<circle cx="519.26" cy="257.30" r="2.2" fill="none" stroke="#111" stroke-width="1.05"/>
<circle cx="525.08" cy="257.90" r="2.2" fill="none" stroke="#111" stroke-width="1.05"/>
<circle cx="530.89" cy="241.80" r="2.2" fill="none" stroke="#111" stroke-width="1.05"/>
<circle cx="536.71" cy="237.60" r="2.2" fill="none" stroke="#111" stroke-width="1.05"/>
<circle cx="327.30" cy="200.00" r="2.2" fill="none" stroke="#e8262a" stroke-width="1.05"/>
<circle cx="333.12" cy="215.20" r="2.2" fill="none" stroke="#e8262a" stroke-width="1.05"/>
<circle cx="338.93" cy="216.00" r="2.2" fill="none" stroke="#e8262a" stroke-width="1.05"/>
<circle cx="344.75" cy="195.90" r="2.2" fill="none" stroke="#e8262a" stroke-width="1.05"/>
<circle cx="350.57" cy="194.80" r="2.2" fill="none" stroke="#e8262a" stroke-width="1.05"/>
<circle cx="356.38" cy="189.60" r="2.2" fill="none" stroke="#e8262a" stroke-width="1.05"/>
<circle cx="362.20" cy="218.70" r="2.2" fill="none" stroke="#e8262a" stroke-width="1.05"/>
<circle cx="368.02" cy="204.20" r="2.2" fill="none" stroke="#e8262a" stroke-width="1.05"/>
<circle cx="373.84" cy="193.40" r="2.2" fill="none" stroke="#e8262a" stroke-width="1.05"/>
<circle cx="379.65" cy="197.30" r="2.2" fill="none" stroke="#e8262a" stroke-width="1.05"/>
<circle cx="385.47" cy="208.30" r="2.2" fill="none" stroke="#e8262a" stroke-width="1.05"/>
<circle cx="391.29" cy="215.60" r="2.2" fill="none" stroke="#e8262a" stroke-width="1.05"/>
<circle cx="397.10" cy="217.30" r="2.2" fill="none" stroke="#e8262a" stroke-width="1.05"/>
<circle cx="402.92" cy="210.80" r="2.2" fill="none" stroke="#e8262a" stroke-width="1.05"/>
<circle cx="408.74" cy="210.00" r="2.2" fill="none" stroke="#e8262a" stroke-width="1.05"/>
<circle cx="414.56" cy="212.50" r="2.2" fill="none" stroke="#e8262a" stroke-width="1.05"/>
<circle cx="420.37" cy="218.10" r="2.2" fill="none" stroke="#e8262a" stroke-width="1.05"/>
<circle cx="426.19" cy="220.20" r="2.2" fill="none" stroke="#e8262a" stroke-width="1.05"/>
<circle cx="432.01" cy="224.00" r="2.2" fill="none" stroke="#e8262a" stroke-width="1.05"/>
<circle cx="437.82" cy="227.10" r="2.2" fill="none" stroke="#e8262a" stroke-width="1.05"/>
<circle cx="443.64" cy="226.00" r="2.2" fill="none" stroke="#e8262a" stroke-width="1.05"/>
<circle cx="449.46" cy="231.30" r="2.2" fill="none" stroke="#e8262a" stroke-width="1.05"/>
<circle cx="455.27" cy="224.40" r="2.2" fill="none" stroke="#e8262a" stroke-width="1.05"/>
<circle cx="461.09" cy="216.40" r="2.2" fill="none" stroke="#e8262a" stroke-width="1.05"/>
<circle cx="466.91" cy="224.80" r="2.2" fill="none" stroke="#e8262a" stroke-width="1.05"/>
<circle cx="472.73" cy="235.50" r="2.2" fill="none" stroke="#e8262a" stroke-width="1.05"/>
<circle cx="478.54" cy="229.20" r="2.2" fill="none" stroke="#e8262a" stroke-width="1.05"/>
<circle cx="484.36" cy="225.80" r="2.2" fill="none" stroke="#e8262a" stroke-width="1.05"/>
<circle cx="490.18" cy="233.40" r="2.2" fill="none" stroke="#e8262a" stroke-width="1.05"/>
<circle cx="495.99" cy="244.30" r="2.2" fill="none" stroke="#e8262a" stroke-width="1.05"/>
<circle cx="501.81" cy="239.40" r="2.2" fill="none" stroke="#e8262a" stroke-width="1.05"/>
<circle cx="507.63" cy="230.70" r="2.2" fill="none" stroke="#e8262a" stroke-width="1.05"/>
<circle cx="513.44" cy="239.70" r="2.2" fill="none" stroke="#e8262a" stroke-width="1.05"/>
<circle cx="519.26" cy="252.60" r="2.2" fill="none" stroke="#e8262a" stroke-width="1.05"/>
<circle cx="525.08" cy="242.80" r="2.2" fill="none" stroke="#e8262a" stroke-width="1.05"/>
<circle cx="530.89" cy="236.50" r="2.2" fill="none" stroke="#e8262a" stroke-width="1.05"/>
<circle cx="536.71" cy="236.50" r="2.2" fill="none" stroke="#e8262a" stroke-width="1.05"/>
</g>
<clipPath id="cpb3"><rect x="319.2" y="275.6" width="226.3" height="91.39999999999998"/></clipPath>
<g clip-path="url(#cpb3)">
<circle cx="327.30" cy="317.30" r="2.2" fill="none" stroke="#111" stroke-width="1.05"/>
<circle cx="333.12" cy="363.80" r="2.2" fill="none" stroke="#111" stroke-width="1.05"/>
<circle cx="338.93" cy="330.10" r="2.2" fill="none" stroke="#111" stroke-width="1.05"/>
<circle cx="350.57" cy="289.60" r="2.2" fill="none" stroke="#111" stroke-width="1.05"/>
<circle cx="356.38" cy="285.90" r="2.2" fill="none" stroke="#111" stroke-width="1.05"/>
<circle cx="362.20" cy="298.60" r="2.2" fill="none" stroke="#111" stroke-width="1.05"/>
<circle cx="368.02" cy="301.50" r="2.2" fill="none" stroke="#111" stroke-width="1.05"/>
<circle cx="373.84" cy="313.10" r="2.2" fill="none" stroke="#111" stroke-width="1.05"/>
<circle cx="379.65" cy="328.50" r="2.2" fill="none" stroke="#111" stroke-width="1.05"/>
<circle cx="385.47" cy="320.80" r="2.2" fill="none" stroke="#111" stroke-width="1.05"/>
<circle cx="391.29" cy="302.50" r="2.2" fill="none" stroke="#111" stroke-width="1.05"/>
<circle cx="397.10" cy="284.00" r="2.2" fill="none" stroke="#111" stroke-width="1.05"/>
<circle cx="402.92" cy="290.70" r="2.2" fill="none" stroke="#111" stroke-width="1.05"/>
<circle cx="408.74" cy="294.20" r="2.2" fill="none" stroke="#111" stroke-width="1.05"/>
<circle cx="414.56" cy="317.30" r="2.2" fill="none" stroke="#111" stroke-width="1.05"/>
<circle cx="420.37" cy="307.70" r="2.2" fill="none" stroke="#111" stroke-width="1.05"/>
<circle cx="426.19" cy="315.60" r="2.2" fill="none" stroke="#111" stroke-width="1.05"/>
<circle cx="432.01" cy="322.40" r="2.2" fill="none" stroke="#111" stroke-width="1.05"/>
<circle cx="437.82" cy="331.30" r="2.2" fill="none" stroke="#111" stroke-width="1.05"/>
<circle cx="443.64" cy="338.40" r="2.2" fill="none" stroke="#111" stroke-width="1.05"/>
<circle cx="455.27" cy="321.20" r="2.2" fill="none" stroke="#111" stroke-width="1.05"/>
<circle cx="461.09" cy="335.90" r="2.2" fill="none" stroke="#111" stroke-width="1.05"/>
<circle cx="466.91" cy="339.00" r="2.2" fill="none" stroke="#111" stroke-width="1.05"/>
<circle cx="472.73" cy="305.50" r="2.2" fill="none" stroke="#111" stroke-width="1.05"/>
<circle cx="478.54" cy="286.20" r="2.2" fill="none" stroke="#111" stroke-width="1.05"/>
<circle cx="484.36" cy="292.30" r="2.2" fill="none" stroke="#111" stroke-width="1.05"/>
<circle cx="490.18" cy="302.00" r="2.2" fill="none" stroke="#111" stroke-width="1.05"/>
<circle cx="495.99" cy="309.70" r="2.2" fill="none" stroke="#111" stroke-width="1.05"/>
<circle cx="501.81" cy="320.20" r="2.2" fill="none" stroke="#111" stroke-width="1.05"/>
<circle cx="507.63" cy="314.50" r="2.2" fill="none" stroke="#111" stroke-width="1.05"/>
<circle cx="513.44" cy="303.00" r="2.2" fill="none" stroke="#111" stroke-width="1.05"/>
<circle cx="519.26" cy="291.90" r="2.2" fill="none" stroke="#111" stroke-width="1.05"/>
<circle cx="525.08" cy="295.70" r="2.2" fill="none" stroke="#111" stroke-width="1.05"/>
<circle cx="530.89" cy="329.60" r="2.2" fill="none" stroke="#111" stroke-width="1.05"/>
<circle cx="536.71" cy="347.00" r="2.2" fill="none" stroke="#111" stroke-width="1.05"/>
<circle cx="327.30" cy="364.00" r="2.2" fill="none" stroke="#e8262a" stroke-width="1.05"/>
<circle cx="333.12" cy="364.00" r="2.2" fill="none" stroke="#e8262a" stroke-width="1.05"/>
<circle cx="338.93" cy="331.80" r="2.2" fill="none" stroke="#e8262a" stroke-width="1.05"/>
<circle cx="344.75" cy="312.90" r="2.2" fill="none" stroke="#e8262a" stroke-width="1.05"/>
<circle cx="350.57" cy="302.50" r="2.2" fill="none" stroke="#e8262a" stroke-width="1.05"/>
<circle cx="356.38" cy="356.70" r="2.2" fill="none" stroke="#e8262a" stroke-width="1.05"/>
<circle cx="362.20" cy="359.80" r="2.2" fill="none" stroke="#e8262a" stroke-width="1.05"/>
<circle cx="368.02" cy="343.20" r="2.2" fill="none" stroke="#e8262a" stroke-width="1.05"/>
<circle cx="373.84" cy="351.50" r="2.2" fill="none" stroke="#e8262a" stroke-width="1.05"/>
<circle cx="379.65" cy="363.40" r="2.2" fill="none" stroke="#e8262a" stroke-width="1.05"/>
<circle cx="385.47" cy="349.90" r="2.2" fill="none" stroke="#e8262a" stroke-width="1.05"/>
<circle cx="391.29" cy="326.40" r="2.2" fill="none" stroke="#e8262a" stroke-width="1.05"/>
<circle cx="397.10" cy="301.50" r="2.2" fill="none" stroke="#e8262a" stroke-width="1.05"/>
<circle cx="402.92" cy="298.00" r="2.2" fill="none" stroke="#e8262a" stroke-width="1.05"/>
<circle cx="408.74" cy="318.10" r="2.2" fill="none" stroke="#e8262a" stroke-width="1.05"/>
<circle cx="414.56" cy="343.20" r="2.2" fill="none" stroke="#e8262a" stroke-width="1.05"/>
<circle cx="420.37" cy="318.70" r="2.2" fill="none" stroke="#e8262a" stroke-width="1.05"/>
<circle cx="426.19" cy="318.70" r="2.2" fill="none" stroke="#e8262a" stroke-width="1.05"/>
<circle cx="432.01" cy="324.90" r="2.2" fill="none" stroke="#e8262a" stroke-width="1.05"/>
<circle cx="437.82" cy="332.10" r="2.2" fill="none" stroke="#e8262a" stroke-width="1.05"/>
<circle cx="443.64" cy="338.40" r="2.2" fill="none" stroke="#e8262a" stroke-width="1.05"/>
<circle cx="449.46" cy="325.00" r="2.2" fill="none" stroke="#e8262a" stroke-width="1.05"/>
<circle cx="455.27" cy="344.30" r="2.2" fill="none" stroke="#e8262a" stroke-width="1.05"/>
<circle cx="461.09" cy="360.60" r="2.2" fill="none" stroke="#e8262a" stroke-width="1.05"/>
<circle cx="466.91" cy="350.10" r="2.2" fill="none" stroke="#e8262a" stroke-width="1.05"/>
<circle cx="472.73" cy="326.90" r="2.2" fill="none" stroke="#e8262a" stroke-width="1.05"/>
<circle cx="478.54" cy="329.20" r="2.2" fill="none" stroke="#e8262a" stroke-width="1.05"/>
<circle cx="484.36" cy="333.80" r="2.2" fill="none" stroke="#e8262a" stroke-width="1.05"/>
<circle cx="490.18" cy="322.70" r="2.2" fill="none" stroke="#e8262a" stroke-width="1.05"/>
<circle cx="495.99" cy="311.80" r="2.2" fill="none" stroke="#e8262a" stroke-width="1.05"/>
<circle cx="501.81" cy="322.30" r="2.2" fill="none" stroke="#e8262a" stroke-width="1.05"/>
<circle cx="507.63" cy="322.90" r="2.2" fill="none" stroke="#e8262a" stroke-width="1.05"/>
<circle cx="513.44" cy="307.60" r="2.2" fill="none" stroke="#e8262a" stroke-width="1.05"/>
<circle cx="519.26" cy="295.70" r="2.2" fill="none" stroke="#e8262a" stroke-width="1.05"/>
<circle cx="525.08" cy="322.70" r="2.2" fill="none" stroke="#e8262a" stroke-width="1.05"/>
<circle cx="530.89" cy="349.50" r="2.2" fill="none" stroke="#e8262a" stroke-width="1.05"/>
<circle cx="536.71" cy="352.20" r="2.2" fill="none" stroke="#e8262a" stroke-width="1.05"/>
</g>
<clipPath id="cpc1"><rect x="42.0" y="410.5" width="226.5" height="156.0"/></clipPath>
<g clip-path="url(#cpc1)">
<path d="M50.50,510.90L53.35,516.10L47.65,516.10Z" fill="none" stroke="#111" stroke-width="1" stroke-linejoin="miter"/>
<path d="M56.32,470.40L59.17,475.60L53.47,475.60Z" fill="none" stroke="#111" stroke-width="1" stroke-linejoin="miter"/>
<path d="M62.13,515.50L64.98,520.70L59.28,520.70Z" fill="none" stroke="#111" stroke-width="1" stroke-linejoin="miter"/>
<path d="M67.95,481.40L70.80,486.60L65.10,486.60Z" fill="none" stroke="#111" stroke-width="1" stroke-linejoin="miter"/>
<path d="M73.77,479.90L76.62,485.10L70.92,485.10Z" fill="none" stroke="#111" stroke-width="1" stroke-linejoin="miter"/>
<path d="M79.59,471.90L82.44,477.10L76.74,477.10Z" fill="none" stroke="#111" stroke-width="1" stroke-linejoin="miter"/>
<path d="M85.40,482.90L88.25,488.10L82.55,488.10Z" fill="none" stroke="#111" stroke-width="1" stroke-linejoin="miter"/>
<path d="M91.22,498.90L94.07,504.10L88.37,504.10Z" fill="none" stroke="#111" stroke-width="1" stroke-linejoin="miter"/>
<path d="M97.04,498.90L99.89,504.10L94.19,504.10Z" fill="none" stroke="#111" stroke-width="1" stroke-linejoin="miter"/>
<path d="M102.85,496.80L105.70,502.00L100.00,502.00Z" fill="none" stroke="#111" stroke-width="1" stroke-linejoin="miter"/>
<path d="M108.67,502.60L111.52,507.80L105.82,507.80Z" fill="none" stroke="#111" stroke-width="1" stroke-linejoin="miter"/>
<path d="M114.49,492.60L117.34,497.80L111.64,497.80Z" fill="none" stroke="#111" stroke-width="1" stroke-linejoin="miter"/>
<path d="M120.30,489.70L123.15,494.90L117.45,494.90Z" fill="none" stroke="#111" stroke-width="1" stroke-linejoin="miter"/>
<path d="M126.12,488.70L128.97,493.90L123.27,493.90Z" fill="none" stroke="#111" stroke-width="1" stroke-linejoin="miter"/>
<path d="M137.75,487.00L140.60,492.20L134.91,492.20Z" fill="none" stroke="#111" stroke-width="1" stroke-linejoin="miter"/>
<path d="M155.21,487.70L158.06,492.90L152.36,492.90Z" fill="none" stroke="#111" stroke-width="1" stroke-linejoin="miter"/>
<path d="M166.84,491.80L169.69,497.00L163.99,497.00Z" fill="none" stroke="#111" stroke-width="1" stroke-linejoin="miter"/>
<path d="M172.66,489.70L175.51,494.90L169.81,494.90Z" fill="none" stroke="#111" stroke-width="1" stroke-linejoin="miter"/>
<path d="M178.47,489.70L181.32,494.90L175.62,494.90Z" fill="none" stroke="#111" stroke-width="1" stroke-linejoin="miter"/>
<path d="M184.29,496.80L187.14,502.00L181.44,502.00Z" fill="none" stroke="#111" stroke-width="1" stroke-linejoin="miter"/>
<path d="M190.11,511.30L192.96,516.50L187.26,516.50Z" fill="none" stroke="#111" stroke-width="1" stroke-linejoin="miter"/>
<path d="M195.93,503.00L198.78,508.20L193.08,508.20Z" fill="none" stroke="#111" stroke-width="1" stroke-linejoin="miter"/>
<path d="M201.74,518.60L204.59,523.80L198.89,523.80Z" fill="none" stroke="#111" stroke-width="1" stroke-linejoin="miter"/>
<path d="M207.56,503.00L210.41,508.20L204.71,508.20Z" fill="none" stroke="#111" stroke-width="1" stroke-linejoin="miter"/>
<path d="M213.38,518.60L216.23,523.80L210.53,523.80Z" fill="none" stroke="#111" stroke-width="1" stroke-linejoin="miter"/>
<path d="M219.19,513.40L222.04,518.60L216.34,518.60Z" fill="none" stroke="#111" stroke-width="1" stroke-linejoin="miter"/>
<path d="M236.64,475.20L239.49,480.40L233.79,480.40Z" fill="none" stroke="#111" stroke-width="1" stroke-linejoin="miter"/>
<path d="M254.09,498.00L256.94,503.20L251.25,503.20Z" fill="none" stroke="#111" stroke-width="1" stroke-linejoin="miter"/>
<circle cx="79.59" cy="534.60" r="2.2" fill="none" stroke="#111" stroke-width="1.05"/>
<circle cx="85.40" cy="540.20" r="2.2" fill="none" stroke="#111" stroke-width="1.05"/>
<circle cx="91.22" cy="523.80" r="2.2" fill="none" stroke="#111" stroke-width="1.05"/>
<circle cx="97.04" cy="514.90" r="2.2" fill="none" stroke="#111" stroke-width="1.05"/>
<circle cx="102.85" cy="503.40" r="2.2" fill="none" stroke="#111" stroke-width="1.05"/>
<circle cx="108.67" cy="495.80" r="2.2" fill="none" stroke="#111" stroke-width="1.05"/>
<circle cx="120.30" cy="480.60" r="2.2" fill="none" stroke="#111" stroke-width="1.05"/>
<circle cx="126.12" cy="483.10" r="2.2" fill="none" stroke="#111" stroke-width="1.05"/>
<circle cx="131.94" cy="479.60" r="2.2" fill="none" stroke="#111" stroke-width="1.05"/>
<circle cx="137.75" cy="483.10" r="2.2" fill="none" stroke="#111" stroke-width="1.05"/>
<circle cx="143.57" cy="481.60" r="2.2" fill="none" stroke="#111" stroke-width="1.05"/>
<circle cx="149.39" cy="477.50" r="2.2" fill="none" stroke="#111" stroke-width="1.05"/>
<circle cx="155.21" cy="478.00" r="2.2" fill="none" stroke="#111" stroke-width="1.05"/>
<circle cx="161.02" cy="476.00" r="2.2" fill="none" stroke="#111" stroke-width="1.05"/>
<circle cx="166.84" cy="476.40" r="2.2" fill="none" stroke="#111" stroke-width="1.05"/>
<circle cx="172.66" cy="472.30" r="2.2" fill="none" stroke="#111" stroke-width="1.05"/>
<circle cx="178.47" cy="469.20" r="2.2" fill="none" stroke="#111" stroke-width="1.05"/>
<circle cx="184.29" cy="470.60" r="2.2" fill="none" stroke="#111" stroke-width="1.05"/>
<circle cx="190.11" cy="478.90" r="2.2" fill="none" stroke="#111" stroke-width="1.05"/>
<circle cx="195.93" cy="472.30" r="2.2" fill="none" stroke="#111" stroke-width="1.05"/>
<circle cx="207.56" cy="467.70" r="2.2" fill="none" stroke="#111" stroke-width="1.05"/>
<circle cx="219.19" cy="476.00" r="2.2" fill="none" stroke="#111" stroke-width="1.05"/>
<circle cx="225.01" cy="446.30" r="2.2" fill="none" stroke="#111" stroke-width="1.05"/>
<circle cx="230.83" cy="445.70" r="2.2" fill="none" stroke="#111" stroke-width="1.05"/>
<circle cx="236.64" cy="445.70" r="2.2" fill="none" stroke="#111" stroke-width="1.05"/>
<circle cx="242.46" cy="454.60" r="2.2" fill="none" stroke="#111" stroke-width="1.05"/>
<circle cx="248.28" cy="452.60" r="2.2" fill="none" stroke="#111" stroke-width="1.05"/>
<circle cx="254.09" cy="465.00" r="2.2" fill="none" stroke="#111" stroke-width="1.05"/>
<circle cx="259.91" cy="456.70" r="2.2" fill="none" stroke="#111" stroke-width="1.05"/>
<circle cx="73.77" cy="476.90" r="2.2" fill="none" stroke="#e8262a" stroke-width="1.05"/>
<circle cx="79.59" cy="530.80" r="2.2" fill="none" stroke="#e8262a" stroke-width="1.05"/>
<circle cx="91.22" cy="524.60" r="2.2" fill="none" stroke="#e8262a" stroke-width="1.05"/>
<circle cx="97.04" cy="515.90" r="2.2" fill="none" stroke="#e8262a" stroke-width="1.05"/>
<circle cx="102.85" cy="505.50" r="2.2" fill="none" stroke="#e8262a" stroke-width="1.05"/>
<circle cx="108.67" cy="498.20" r="2.2" fill="none" stroke="#e8262a" stroke-width="1.05"/>
<circle cx="120.30" cy="481.00" r="2.2" fill="none" stroke="#e8262a" stroke-width="1.05"/>
<circle cx="126.12" cy="483.70" r="2.2" fill="none" stroke="#e8262a" stroke-width="1.05"/>
<circle cx="137.75" cy="483.70" r="2.2" fill="none" stroke="#e8262a" stroke-width="1.05"/>
<circle cx="143.57" cy="481.60" r="2.2" fill="none" stroke="#e8262a" stroke-width="1.05"/>
<circle cx="155.21" cy="478.50" r="2.2" fill="none" stroke="#e8262a" stroke-width="1.05"/>
<circle cx="166.84" cy="474.40" r="2.2" fill="none" stroke="#e8262a" stroke-width="1.05"/>
<circle cx="172.66" cy="470.60" r="2.2" fill="none" stroke="#e8262a" stroke-width="1.05"/>
<circle cx="178.47" cy="465.60" r="2.2" fill="none" stroke="#e8262a" stroke-width="1.05"/>
<circle cx="184.29" cy="461.90" r="2.2" fill="none" stroke="#e8262a" stroke-width="1.05"/>
<circle cx="190.11" cy="457.80" r="2.2" fill="none" stroke="#e8262a" stroke-width="1.05"/>
<circle cx="195.93" cy="454.60" r="2.2" fill="none" stroke="#e8262a" stroke-width="1.05"/>
<circle cx="201.74" cy="451.50" r="2.2" fill="none" stroke="#e8262a" stroke-width="1.05"/>
<circle cx="207.56" cy="448.00" r="2.2" fill="none" stroke="#e8262a" stroke-width="1.05"/>
<circle cx="213.38" cy="448.80" r="2.2" fill="none" stroke="#e8262a" stroke-width="1.05"/>
<circle cx="219.19" cy="447.40" r="2.2" fill="none" stroke="#e8262a" stroke-width="1.05"/>
<circle cx="225.01" cy="446.30" r="2.2" fill="none" stroke="#e8262a" stroke-width="1.05"/>
<circle cx="230.83" cy="451.90" r="2.2" fill="none" stroke="#e8262a" stroke-width="1.05"/>
<circle cx="236.64" cy="453.20" r="2.2" fill="none" stroke="#e8262a" stroke-width="1.05"/>
<circle cx="242.46" cy="452.60" r="2.2" fill="none" stroke="#e8262a" stroke-width="1.05"/>
<circle cx="248.28" cy="452.60" r="2.2" fill="none" stroke="#e8262a" stroke-width="1.05"/>
<circle cx="254.09" cy="454.00" r="2.2" fill="none" stroke="#e8262a" stroke-width="1.05"/>
<circle cx="259.91" cy="453.20" r="2.2" fill="none" stroke="#e8262a" stroke-width="1.05"/>
<path d="M131.94,485.10L135.24,491.00L128.64,491.00Z" fill="#000"/>
<path d="M143.57,484.70L146.87,490.60L140.27,490.60Z" fill="#000"/>
<path d="M149.39,486.10L152.69,492.00L146.09,492.00Z" fill="#000"/>
<path d="M161.02,485.70L164.32,491.60L157.72,491.60Z" fill="#000"/>
<path d="M225.01,484.00L228.31,489.90L221.71,489.90Z" fill="#000"/>
<path d="M230.83,477.80L234.13,483.70L227.53,483.70Z" fill="#000"/>
<path d="M242.46,487.80L245.76,493.70L239.16,493.70Z" fill="#000"/>
<path d="M248.28,483.20L251.58,489.10L244.98,489.10Z" fill="#000"/>
<path d="M259.91,487.80L263.21,493.70L256.61,493.70Z" fill="#000"/>
<circle cx="73.77" cy="480.60" r="2.5" fill="#000"/>
<circle cx="114.49" cy="488.90" r="2.5" fill="#000"/>
<circle cx="201.74" cy="486.20" r="2.5" fill="#000"/>
<circle cx="213.38" cy="484.10" r="2.5" fill="#000"/>
<circle cx="56.32" cy="414.20" r="2.5" fill="#f00"/>
</g>
<clipPath id="cpc2"><rect x="42.0" y="576.5" width="226.5" height="91.5"/></clipPath>
<g clip-path="url(#cpc2)">
<circle cx="50.50" cy="615.50" r="2.2" fill="none" stroke="#111" stroke-width="1.05"/>
<circle cx="56.32" cy="633.20" r="2.2" fill="none" stroke="#111" stroke-width="1.05"/>
<circle cx="62.13" cy="620.30" r="2.2" fill="none" stroke="#111" stroke-width="1.05"/>
<circle cx="67.95" cy="653.50" r="2.2" fill="none" stroke="#111" stroke-width="1.05"/>
<circle cx="73.77" cy="656.00" r="2.2" fill="none" stroke="#111" stroke-width="1.05"/>
<circle cx="79.59" cy="641.10" r="2.2" fill="none" stroke="#111" stroke-width="1.05"/>
<circle cx="85.40" cy="633.80" r="2.2" fill="none" stroke="#111" stroke-width="1.05"/>
<circle cx="91.22" cy="645.00" r="2.2" fill="none" stroke="#111" stroke-width="1.05"/>
<circle cx="97.04" cy="636.70" r="2.2" fill="none" stroke="#111" stroke-width="1.05"/>
<circle cx="102.85" cy="632.10" r="2.2" fill="none" stroke="#111" stroke-width="1.05"/>
<circle cx="108.67" cy="625.30" r="2.2" fill="none" stroke="#111" stroke-width="1.05"/>
<circle cx="114.49" cy="612.80" r="2.2" fill="none" stroke="#111" stroke-width="1.05"/>
<circle cx="120.30" cy="619.10" r="2.2" fill="none" stroke="#111" stroke-width="1.05"/>
<circle cx="126.12" cy="629.40" r="2.2" fill="none" stroke="#111" stroke-width="1.05"/>
<circle cx="131.94" cy="618.20" r="2.2" fill="none" stroke="#111" stroke-width="1.05"/>
<circle cx="137.75" cy="628.40" r="2.2" fill="none" stroke="#111" stroke-width="1.05"/>
<circle cx="143.57" cy="630.10" r="2.2" fill="none" stroke="#111" stroke-width="1.05"/>
<circle cx="155.21" cy="649.80" r="2.2" fill="none" stroke="#111" stroke-width="1.05"/>
<circle cx="166.84" cy="649.20" r="2.2" fill="none" stroke="#111" stroke-width="1.05"/>
<circle cx="172.66" cy="644.00" r="2.2" fill="none" stroke="#111" stroke-width="1.05"/>
<circle cx="178.47" cy="642.50" r="2.2" fill="none" stroke="#111" stroke-width="1.05"/>
<circle cx="184.29" cy="642.50" r="2.2" fill="none" stroke="#111" stroke-width="1.05"/>
<circle cx="190.11" cy="640.40" r="2.2" fill="none" stroke="#111" stroke-width="1.05"/>
<circle cx="195.93" cy="635.90" r="2.2" fill="none" stroke="#111" stroke-width="1.05"/>
<circle cx="201.74" cy="636.30" r="2.2" fill="none" stroke="#111" stroke-width="1.05"/>
<circle cx="207.56" cy="629.60" r="2.2" fill="none" stroke="#111" stroke-width="1.05"/>
<circle cx="213.38" cy="636.70" r="2.2" fill="none" stroke="#111" stroke-width="1.05"/>
<circle cx="219.19" cy="637.30" r="2.2" fill="none" stroke="#111" stroke-width="1.05"/>
<circle cx="225.01" cy="634.80" r="2.2" fill="none" stroke="#111" stroke-width="1.05"/>
<circle cx="236.64" cy="650.20" r="2.2" fill="none" stroke="#111" stroke-width="1.05"/>
<circle cx="248.28" cy="640.00" r="2.2" fill="none" stroke="#111" stroke-width="1.05"/>
<circle cx="254.09" cy="649.20" r="2.2" fill="none" stroke="#111" stroke-width="1.05"/>
<circle cx="50.50" cy="611.80" r="2.2" fill="none" stroke="#e8262a" stroke-width="1.05"/>
<circle cx="56.32" cy="622.20" r="2.2" fill="none" stroke="#e8262a" stroke-width="1.05"/>
<circle cx="62.13" cy="613.50" r="2.2" fill="none" stroke="#e8262a" stroke-width="1.05"/>
<circle cx="67.95" cy="651.90" r="2.2" fill="none" stroke="#e8262a" stroke-width="1.05"/>
<circle cx="73.77" cy="649.20" r="2.2" fill="none" stroke="#e8262a" stroke-width="1.05"/>
<circle cx="79.59" cy="623.40" r="2.2" fill="none" stroke="#e8262a" stroke-width="1.05"/>
<circle cx="85.40" cy="633.80" r="2.2" fill="none" stroke="#e8262a" stroke-width="1.05"/>
<circle cx="91.22" cy="623.40" r="2.2" fill="none" stroke="#e8262a" stroke-width="1.05"/>
<circle cx="97.04" cy="618.60" r="2.2" fill="none" stroke="#e8262a" stroke-width="1.05"/>
<circle cx="102.85" cy="618.60" r="2.2" fill="none" stroke="#e8262a" stroke-width="1.05"/>
<circle cx="108.67" cy="607.20" r="2.2" fill="none" stroke="#e8262a" stroke-width="1.05"/>
<circle cx="114.49" cy="609.30" r="2.2" fill="none" stroke="#e8262a" stroke-width="1.05"/>
<circle cx="120.30" cy="616.60" r="2.2" fill="none" stroke="#e8262a" stroke-width="1.05"/>
<circle cx="126.12" cy="625.90" r="2.2" fill="none" stroke="#e8262a" stroke-width="1.05"/>
<circle cx="131.94" cy="618.20" r="2.2" fill="none" stroke="#e8262a" stroke-width="1.05"/>
<circle cx="137.75" cy="628.00" r="2.2" fill="none" stroke="#e8262a" stroke-width="1.05"/>
<circle cx="143.57" cy="630.10" r="2.2" fill="none" stroke="#e8262a" stroke-width="1.05"/>
<circle cx="149.39" cy="630.70" r="2.2" fill="none" stroke="#e8262a" stroke-width="1.05"/>
<circle cx="155.21" cy="646.30" r="2.2" fill="none" stroke="#e8262a" stroke-width="1.05"/>
<circle cx="161.02" cy="633.80" r="2.2" fill="none" stroke="#e8262a" stroke-width="1.05"/>
<circle cx="166.84" cy="638.80" r="2.2" fill="none" stroke="#e8262a" stroke-width="1.05"/>
<circle cx="172.66" cy="640.00" r="2.2" fill="none" stroke="#e8262a" stroke-width="1.05"/>
<circle cx="178.47" cy="639.40" r="2.2" fill="none" stroke="#e8262a" stroke-width="1.05"/>
<circle cx="184.29" cy="631.70" r="2.2" fill="none" stroke="#e8262a" stroke-width="1.05"/>
<circle cx="190.11" cy="624.50" r="2.2" fill="none" stroke="#e8262a" stroke-width="1.05"/>
<circle cx="195.93" cy="631.70" r="2.2" fill="none" stroke="#e8262a" stroke-width="1.05"/>
<circle cx="201.74" cy="624.90" r="2.2" fill="none" stroke="#e8262a" stroke-width="1.05"/>
<circle cx="207.56" cy="627.00" r="2.2" fill="none" stroke="#e8262a" stroke-width="1.05"/>
<circle cx="213.38" cy="629.00" r="2.2" fill="none" stroke="#e8262a" stroke-width="1.05"/>
<circle cx="219.19" cy="630.50" r="2.2" fill="none" stroke="#e8262a" stroke-width="1.05"/>
<circle cx="225.01" cy="634.80" r="2.2" fill="none" stroke="#e8262a" stroke-width="1.05"/>
<circle cx="230.83" cy="645.00" r="2.2" fill="none" stroke="#e8262a" stroke-width="1.05"/>
<circle cx="236.64" cy="647.70" r="2.2" fill="none" stroke="#e8262a" stroke-width="1.05"/>
<circle cx="242.46" cy="649.80" r="2.2" fill="none" stroke="#e8262a" stroke-width="1.05"/>
<circle cx="248.28" cy="640.00" r="2.2" fill="none" stroke="#e8262a" stroke-width="1.05"/>
<circle cx="254.09" cy="644.60" r="2.2" fill="none" stroke="#e8262a" stroke-width="1.05"/>
<circle cx="259.91" cy="655.00" r="2.2" fill="none" stroke="#e8262a" stroke-width="1.05"/>
</g>
<clipPath id="cpc3"><rect x="42.0" y="676" width="226.5" height="91.5"/></clipPath>
<g clip-path="url(#cpc3)">
<circle cx="51.10" cy="737.40" r="2.2" fill="none" stroke="#111" stroke-width="1.05"/>
<circle cx="56.92" cy="721.80" r="2.2" fill="none" stroke="#111" stroke-width="1.05"/>
<circle cx="62.73" cy="705.60" r="2.2" fill="none" stroke="#111" stroke-width="1.05"/>
<circle cx="68.55" cy="730.10" r="2.2" fill="none" stroke="#111" stroke-width="1.05"/>
<circle cx="74.37" cy="732.60" r="2.2" fill="none" stroke="#111" stroke-width="1.05"/>
<circle cx="80.19" cy="694.80" r="2.2" fill="none" stroke="#111" stroke-width="1.05"/>
<circle cx="86.00" cy="691.70" r="2.2" fill="none" stroke="#111" stroke-width="1.05"/>
<circle cx="91.82" cy="685.50" r="2.2" fill="none" stroke="#111" stroke-width="1.05"/>
<circle cx="97.64" cy="687.50" r="2.2" fill="none" stroke="#111" stroke-width="1.05"/>
<circle cx="103.45" cy="695.40" r="2.2" fill="none" stroke="#111" stroke-width="1.05"/>
<circle cx="109.27" cy="702.50" r="2.2" fill="none" stroke="#111" stroke-width="1.05"/>
<circle cx="115.09" cy="749.80" r="2.2" fill="none" stroke="#111" stroke-width="1.05"/>
<circle cx="120.90" cy="723.90" r="2.2" fill="none" stroke="#111" stroke-width="1.05"/>
<circle cx="126.72" cy="722.20" r="2.2" fill="none" stroke="#111" stroke-width="1.05"/>
<circle cx="132.54" cy="712.00" r="2.2" fill="none" stroke="#111" stroke-width="1.05"/>
<circle cx="138.35" cy="723.20" r="2.2" fill="none" stroke="#111" stroke-width="1.05"/>
<circle cx="149.99" cy="691.70" r="2.2" fill="none" stroke="#111" stroke-width="1.05"/>
<circle cx="155.81" cy="685.20" r="2.2" fill="none" stroke="#111" stroke-width="1.05"/>
<circle cx="167.44" cy="683.40" r="2.2" fill="none" stroke="#111" stroke-width="1.05"/>
<circle cx="173.26" cy="683.80" r="2.2" fill="none" stroke="#111" stroke-width="1.05"/>
<circle cx="179.07" cy="683.00" r="2.2" fill="none" stroke="#111" stroke-width="1.05"/>
<circle cx="184.89" cy="683.00" r="2.2" fill="none" stroke="#111" stroke-width="1.05"/>
<circle cx="190.71" cy="683.00" r="2.2" fill="none" stroke="#111" stroke-width="1.05"/>
<circle cx="196.53" cy="684.40" r="2.2" fill="none" stroke="#111" stroke-width="1.05"/>
<circle cx="202.34" cy="683.80" r="2.2" fill="none" stroke="#111" stroke-width="1.05"/>
<circle cx="208.16" cy="685.90" r="2.2" fill="none" stroke="#111" stroke-width="1.05"/>
<circle cx="213.98" cy="683.80" r="2.2" fill="none" stroke="#111" stroke-width="1.05"/>
<circle cx="219.79" cy="683.00" r="2.2" fill="none" stroke="#111" stroke-width="1.05"/>
<circle cx="237.24" cy="681.70" r="2.2" fill="none" stroke="#111" stroke-width="1.05"/>
<circle cx="248.88" cy="684.40" r="2.2" fill="none" stroke="#111" stroke-width="1.05"/>
<circle cx="254.69" cy="683.00" r="2.2" fill="none" stroke="#111" stroke-width="1.05"/>
<circle cx="51.10" cy="754.00" r="2.2" fill="none" stroke="#e8262a" stroke-width="1.05"/>
<circle cx="56.92" cy="765.40" r="2.2" fill="none" stroke="#e8262a" stroke-width="1.05"/>
<circle cx="62.73" cy="719.10" r="2.2" fill="none" stroke="#e8262a" stroke-width="1.05"/>
<circle cx="68.55" cy="736.30" r="2.2" fill="none" stroke="#e8262a" stroke-width="1.05"/>
<circle cx="74.37" cy="760.60" r="2.2" fill="none" stroke="#e8262a" stroke-width="1.05"/>
<circle cx="80.19" cy="724.30" r="2.2" fill="none" stroke="#e8262a" stroke-width="1.05"/>
<circle cx="86.00" cy="691.70" r="2.2" fill="none" stroke="#e8262a" stroke-width="1.05"/>
<circle cx="91.82" cy="700.40" r="2.2" fill="none" stroke="#e8262a" stroke-width="1.05"/>
<circle cx="97.64" cy="703.50" r="2.2" fill="none" stroke="#e8262a" stroke-width="1.05"/>
<circle cx="103.45" cy="714.90" r="2.2" fill="none" stroke="#e8262a" stroke-width="1.05"/>
<circle cx="109.27" cy="743.60" r="2.2" fill="none" stroke="#e8262a" stroke-width="1.05"/>
<circle cx="115.09" cy="764.80" r="2.2" fill="none" stroke="#e8262a" stroke-width="1.05"/>
<circle cx="120.90" cy="730.70" r="2.2" fill="none" stroke="#e8262a" stroke-width="1.05"/>
<circle cx="126.72" cy="730.70" r="2.2" fill="none" stroke="#e8262a" stroke-width="1.05"/>
<circle cx="132.54" cy="712.00" r="2.2" fill="none" stroke="#e8262a" stroke-width="1.05"/>
<circle cx="138.35" cy="723.90" r="2.2" fill="none" stroke="#e8262a" stroke-width="1.05"/>
<circle cx="144.17" cy="704.60" r="2.2" fill="none" stroke="#e8262a" stroke-width="1.05"/>
<circle cx="149.99" cy="691.70" r="2.2" fill="none" stroke="#e8262a" stroke-width="1.05"/>
<circle cx="155.81" cy="686.50" r="2.2" fill="none" stroke="#e8262a" stroke-width="1.05"/>
<circle cx="161.62" cy="689.60" r="2.2" fill="none" stroke="#e8262a" stroke-width="1.05"/>
<circle cx="167.44" cy="687.10" r="2.2" fill="none" stroke="#e8262a" stroke-width="1.05"/>
<circle cx="173.26" cy="684.40" r="2.2" fill="none" stroke="#e8262a" stroke-width="1.05"/>
<circle cx="179.07" cy="683.80" r="2.2" fill="none" stroke="#e8262a" stroke-width="1.05"/>
<circle cx="184.89" cy="685.90" r="2.2" fill="none" stroke="#e8262a" stroke-width="1.05"/>
<circle cx="190.71" cy="688.00" r="2.2" fill="none" stroke="#e8262a" stroke-width="1.05"/>
<circle cx="196.53" cy="685.50" r="2.2" fill="none" stroke="#e8262a" stroke-width="1.05"/>
<circle cx="202.34" cy="688.00" r="2.2" fill="none" stroke="#e8262a" stroke-width="1.05"/>
<circle cx="208.16" cy="686.50" r="2.2" fill="none" stroke="#e8262a" stroke-width="1.05"/>
<circle cx="213.98" cy="686.50" r="2.2" fill="none" stroke="#e8262a" stroke-width="1.05"/>
<circle cx="219.79" cy="684.40" r="2.2" fill="none" stroke="#e8262a" stroke-width="1.05"/>
<circle cx="225.61" cy="683.40" r="2.2" fill="none" stroke="#e8262a" stroke-width="1.05"/>
<circle cx="231.43" cy="682.30" r="2.2" fill="none" stroke="#e8262a" stroke-width="1.05"/>
<circle cx="237.24" cy="681.70" r="2.2" fill="none" stroke="#e8262a" stroke-width="1.05"/>
<circle cx="243.06" cy="681.70" r="2.2" fill="none" stroke="#e8262a" stroke-width="1.05"/>
<circle cx="248.88" cy="684.40" r="2.2" fill="none" stroke="#e8262a" stroke-width="1.05"/>
<circle cx="254.69" cy="683.40" r="2.2" fill="none" stroke="#e8262a" stroke-width="1.05"/>
<circle cx="260.51" cy="681.70" r="2.2" fill="none" stroke="#e8262a" stroke-width="1.05"/>
</g>
<clipPath id="cpd1"><rect x="319.2" y="410.5" width="226.3" height="156.39999999999998"/></clipPath>
<g clip-path="url(#cpd1)">
<path d="M327.30,456.90L330.15,462.10L324.45,462.10Z" fill="none" stroke="#111" stroke-width="1" stroke-linejoin="miter"/>
<path d="M333.12,483.50L335.97,488.70L330.27,488.70Z" fill="none" stroke="#111" stroke-width="1" stroke-linejoin="miter"/>
<path d="M344.75,483.50L347.60,488.70L341.90,488.70Z" fill="none" stroke="#111" stroke-width="1" stroke-linejoin="miter"/>
<path d="M362.20,458.60L365.05,463.80L359.35,463.80Z" fill="none" stroke="#111" stroke-width="1" stroke-linejoin="miter"/>
<path d="M368.02,465.90L370.87,471.10L365.17,471.10Z" fill="none" stroke="#111" stroke-width="1" stroke-linejoin="miter"/>
<path d="M373.84,472.50L376.69,477.70L370.99,477.70Z" fill="none" stroke="#111" stroke-width="1" stroke-linejoin="miter"/>
<path d="M379.65,482.90L382.50,488.10L376.80,488.10Z" fill="none" stroke="#111" stroke-width="1" stroke-linejoin="miter"/>
<path d="M385.47,489.70L388.32,494.90L382.62,494.90Z" fill="none" stroke="#111" stroke-width="1" stroke-linejoin="miter"/>
<path d="M391.29,491.80L394.14,497.00L388.44,497.00Z" fill="none" stroke="#111" stroke-width="1" stroke-linejoin="miter"/>
<path d="M397.10,490.80L399.95,496.00L394.25,496.00Z" fill="none" stroke="#111" stroke-width="1" stroke-linejoin="miter"/>
<path d="M402.92,501.60L405.77,506.80L400.07,506.80Z" fill="none" stroke="#111" stroke-width="1" stroke-linejoin="miter"/>
<path d="M408.74,517.10L411.59,522.30L405.89,522.30Z" fill="none" stroke="#111" stroke-width="1" stroke-linejoin="miter"/>
<path d="M414.56,524.40L417.41,529.60L411.70,529.60Z" fill="none" stroke="#111" stroke-width="1" stroke-linejoin="miter"/>
<path d="M420.37,525.90L423.22,531.10L417.52,531.10Z" fill="none" stroke="#111" stroke-width="1" stroke-linejoin="miter"/>
<path d="M426.19,520.30L429.04,525.50L423.34,525.50Z" fill="none" stroke="#111" stroke-width="1" stroke-linejoin="miter"/>
<path d="M432.01,522.90L434.86,528.10L429.16,528.10Z" fill="none" stroke="#111" stroke-width="1" stroke-linejoin="miter"/>
<path d="M437.82,507.60L440.67,512.80L434.97,512.80Z" fill="none" stroke="#111" stroke-width="1" stroke-linejoin="miter"/>
<path d="M443.64,507.60L446.49,512.80L440.79,512.80Z" fill="none" stroke="#111" stroke-width="1" stroke-linejoin="miter"/>
<path d="M449.46,498.20L452.31,503.40L446.61,503.40Z" fill="none" stroke="#111" stroke-width="1" stroke-linejoin="miter"/>
<path d="M455.27,498.20L458.12,503.40L452.42,503.40Z" fill="none" stroke="#111" stroke-width="1" stroke-linejoin="miter"/>
<path d="M461.09,497.20L463.94,502.40L458.24,502.40Z" fill="none" stroke="#111" stroke-width="1" stroke-linejoin="miter"/>
<path d="M466.91,500.30L469.76,505.50L464.06,505.50Z" fill="none" stroke="#111" stroke-width="1" stroke-linejoin="miter"/>
<path d="M472.73,482.90L475.58,488.10L469.88,488.10Z" fill="none" stroke="#111" stroke-width="1" stroke-linejoin="miter"/>
<path d="M478.54,501.40L481.39,506.60L475.69,506.60Z" fill="none" stroke="#111" stroke-width="1" stroke-linejoin="miter"/>
<path d="M484.36,510.80L487.21,516.00L481.51,516.00Z" fill="none" stroke="#111" stroke-width="1" stroke-linejoin="miter"/>
<path d="M490.18,512.90L493.03,518.10L487.33,518.10Z" fill="none" stroke="#111" stroke-width="1" stroke-linejoin="miter"/>
<path d="M495.99,538.00L498.84,543.20L493.14,543.20Z" fill="none" stroke="#111" stroke-width="1" stroke-linejoin="miter"/>
<path d="M501.81,513.90L504.66,519.10L498.96,519.10Z" fill="none" stroke="#111" stroke-width="1" stroke-linejoin="miter"/>
<path d="M507.63,528.60L510.48,533.80L504.78,533.80Z" fill="none" stroke="#111" stroke-width="1" stroke-linejoin="miter"/>
<path d="M513.44,537.00L516.29,542.20L510.59,542.20Z" fill="none" stroke="#111" stroke-width="1" stroke-linejoin="miter"/>
<path d="M519.26,503.50L522.11,508.70L516.41,508.70Z" fill="none" stroke="#111" stroke-width="1" stroke-linejoin="miter"/>
<path d="M525.08,516.40L527.93,521.60L522.23,521.60Z" fill="none" stroke="#111" stroke-width="1" stroke-linejoin="miter"/>
<path d="M530.89,529.60L533.75,534.80L528.04,534.80Z" fill="none" stroke="#111" stroke-width="1" stroke-linejoin="miter"/>
<path d="M536.71,520.20L539.56,525.40L533.86,525.40Z" fill="none" stroke="#111" stroke-width="1" stroke-linejoin="miter"/>
<circle cx="344.75" cy="552.20" r="2.2" fill="none" stroke="#111" stroke-width="1.05"/>
<circle cx="350.57" cy="497.60" r="2.2" fill="none" stroke="#111" stroke-width="1.05"/>
<circle cx="356.38" cy="520.70" r="2.2" fill="none" stroke="#111" stroke-width="1.05"/>
<circle cx="362.20" cy="521.70" r="2.2" fill="none" stroke="#111" stroke-width="1.05"/>
<circle cx="368.02" cy="513.80" r="2.2" fill="none" stroke="#111" stroke-width="1.05"/>
<circle cx="373.84" cy="491.40" r="2.2" fill="none" stroke="#111" stroke-width="1.05"/>
<circle cx="379.65" cy="488.90" r="2.2" fill="none" stroke="#111" stroke-width="1.05"/>
<circle cx="385.47" cy="487.90" r="2.2" fill="none" stroke="#111" stroke-width="1.05"/>
<circle cx="391.29" cy="484.30" r="2.2" fill="none" stroke="#111" stroke-width="1.05"/>
<circle cx="397.10" cy="478.90" r="2.2" fill="none" stroke="#111" stroke-width="1.05"/>
<circle cx="402.92" cy="487.50" r="2.2" fill="none" stroke="#111" stroke-width="1.05"/>
<circle cx="408.74" cy="503.90" r="2.2" fill="none" stroke="#111" stroke-width="1.05"/>
<circle cx="414.56" cy="495.10" r="2.2" fill="none" stroke="#111" stroke-width="1.05"/>
<circle cx="420.37" cy="496.80" r="2.2" fill="none" stroke="#111" stroke-width="1.05"/>
<circle cx="426.19" cy="496.20" r="2.2" fill="none" stroke="#111" stroke-width="1.05"/>
<circle cx="432.01" cy="493.00" r="2.2" fill="none" stroke="#111" stroke-width="1.05"/>
<circle cx="437.82" cy="484.80" r="2.2" fill="none" stroke="#111" stroke-width="1.05"/>
<circle cx="443.64" cy="481.60" r="2.2" fill="none" stroke="#111" stroke-width="1.05"/>
<circle cx="449.46" cy="475.40" r="2.2" fill="none" stroke="#111" stroke-width="1.05"/>
<circle cx="455.27" cy="473.90" r="2.2" fill="none" stroke="#111" stroke-width="1.05"/>
<circle cx="461.09" cy="472.20" r="2.2" fill="none" stroke="#111" stroke-width="1.05"/>
<circle cx="466.91" cy="472.80" r="2.2" fill="none" stroke="#111" stroke-width="1.05"/>
<circle cx="472.73" cy="461.30" r="2.2" fill="none" stroke="#111" stroke-width="1.05"/>
<circle cx="478.54" cy="472.80" r="2.2" fill="none" stroke="#111" stroke-width="1.05"/>
<circle cx="484.36" cy="478.50" r="2.2" fill="none" stroke="#111" stroke-width="1.05"/>
<circle cx="490.18" cy="479.10" r="2.2" fill="none" stroke="#111" stroke-width="1.05"/>
<circle cx="495.99" cy="498.40" r="2.2" fill="none" stroke="#111" stroke-width="1.05"/>
<circle cx="501.81" cy="480.80" r="2.2" fill="none" stroke="#111" stroke-width="1.05"/>
<circle cx="507.63" cy="491.70" r="2.2" fill="none" stroke="#111" stroke-width="1.05"/>
<circle cx="513.44" cy="500.50" r="2.2" fill="none" stroke="#111" stroke-width="1.05"/>
<circle cx="519.26" cy="478.70" r="2.2" fill="none" stroke="#111" stroke-width="1.05"/>
<circle cx="525.08" cy="491.30" r="2.2" fill="none" stroke="#111" stroke-width="1.05"/>
<circle cx="530.89" cy="501.50" r="2.2" fill="none" stroke="#111" stroke-width="1.05"/>
<circle cx="536.71" cy="495.50" r="2.2" fill="none" stroke="#111" stroke-width="1.05"/>
<circle cx="344.75" cy="516.30" r="2.2" fill="none" stroke="#e8262a" stroke-width="1.05"/>
<circle cx="350.57" cy="497.80" r="2.2" fill="none" stroke="#e8262a" stroke-width="1.05"/>
<circle cx="362.20" cy="522.10" r="2.2" fill="none" stroke="#e8262a" stroke-width="1.05"/>
<circle cx="368.02" cy="514.90" r="2.2" fill="none" stroke="#e8262a" stroke-width="1.05"/>
<circle cx="373.84" cy="493.10" r="2.2" fill="none" stroke="#e8262a" stroke-width="1.05"/>
<circle cx="379.65" cy="489.90" r="2.2" fill="none" stroke="#e8262a" stroke-width="1.05"/>
<circle cx="385.47" cy="485.20" r="2.2" fill="none" stroke="#e8262a" stroke-width="1.05"/>
<circle cx="391.29" cy="478.50" r="2.2" fill="none" stroke="#e8262a" stroke-width="1.05"/>
<circle cx="397.10" cy="473.30" r="2.2" fill="none" stroke="#e8262a" stroke-width="1.05"/>
<circle cx="402.92" cy="472.30" r="2.2" fill="none" stroke="#e8262a" stroke-width="1.05"/>
<circle cx="408.74" cy="476.40" r="2.2" fill="none" stroke="#e8262a" stroke-width="1.05"/>
<circle cx="414.56" cy="465.60" r="2.2" fill="none" stroke="#e8262a" stroke-width="1.05"/>
<circle cx="420.37" cy="463.00" r="2.2" fill="none" stroke="#e8262a" stroke-width="1.05"/>
<circle cx="426.19" cy="460.90" r="2.2" fill="none" stroke="#e8262a" stroke-width="1.05"/>
<circle cx="449.46" cy="448.80" r="2.2" fill="none" stroke="#e8262a" stroke-width="1.05"/>
<circle cx="455.27" cy="446.70" r="2.2" fill="none" stroke="#e8262a" stroke-width="1.05"/>
<circle cx="461.09" cy="445.20" r="2.2" fill="none" stroke="#e8262a" stroke-width="1.05"/>
<circle cx="466.91" cy="443.10" r="2.2" fill="none" stroke="#e8262a" stroke-width="1.05"/>
<circle cx="472.73" cy="441.40" r="2.2" fill="none" stroke="#e8262a" stroke-width="1.05"/>
<circle cx="478.54" cy="441.40" r="2.2" fill="none" stroke="#e8262a" stroke-width="1.05"/>
<circle cx="484.36" cy="439.30" r="2.2" fill="none" stroke="#e8262a" stroke-width="1.05"/>
<circle cx="490.18" cy="437.70" r="2.2" fill="none" stroke="#e8262a" stroke-width="1.05"/>
<circle cx="495.99" cy="437.20" r="2.2" fill="none" stroke="#e8262a" stroke-width="1.05"/>
<circle cx="501.81" cy="437.20" r="2.2" fill="none" stroke="#e8262a" stroke-width="1.05"/>
<circle cx="507.63" cy="436.60" r="2.2" fill="none" stroke="#e8262a" stroke-width="1.05"/>
<circle cx="513.44" cy="437.20" r="2.2" fill="none" stroke="#e8262a" stroke-width="1.05"/>
<circle cx="519.26" cy="438.30" r="2.2" fill="none" stroke="#e8262a" stroke-width="1.05"/>
<circle cx="525.08" cy="438.30" r="2.2" fill="none" stroke="#e8262a" stroke-width="1.05"/>
<circle cx="530.89" cy="436.20" r="2.2" fill="none" stroke="#e8262a" stroke-width="1.05"/>
<circle cx="536.71" cy="436.20" r="2.2" fill="none" stroke="#e8262a" stroke-width="1.05"/>
<path d="M338.93,446.90L342.23,452.80L335.63,452.80Z" fill="#000"/>
<path d="M350.57,450.80L353.87,456.70L347.27,456.70Z" fill="#000"/>
<path d="M356.38,449.80L359.69,455.70L353.08,455.70Z" fill="#000"/>
<circle cx="432.01" cy="454.80" r="2.5" fill="#f00"/>
<circle cx="437.82" cy="454.40" r="2.5" fill="#f00"/>
<circle cx="443.64" cy="449.80" r="2.5" fill="#f00"/>
</g>
<clipPath id="cpd2"><rect x="319.2" y="576.6" width="226.3" height="91.89999999999998"/></clipPath>
<g clip-path="url(#cpd2)">
<circle cx="327.30" cy="636.30" r="2.2" fill="none" stroke="#111" stroke-width="1.05"/>
<circle cx="333.12" cy="619.30" r="2.2" fill="none" stroke="#111" stroke-width="1.05"/>
<circle cx="338.93" cy="627.00" r="2.2" fill="none" stroke="#111" stroke-width="1.05"/>
<circle cx="344.75" cy="616.20" r="2.2" fill="none" stroke="#111" stroke-width="1.05"/>
<circle cx="362.20" cy="647.30" r="2.2" fill="none" stroke="#111" stroke-width="1.05"/>
<circle cx="368.02" cy="659.10" r="2.2" fill="none" stroke="#111" stroke-width="1.05"/>
<circle cx="373.84" cy="627.00" r="2.2" fill="none" stroke="#111" stroke-width="1.05"/>
<circle cx="379.65" cy="623.20" r="2.2" fill="none" stroke="#111" stroke-width="1.05"/>
<circle cx="385.47" cy="619.10" r="2.2" fill="none" stroke="#111" stroke-width="1.05"/>
<circle cx="391.29" cy="607.80" r="2.2" fill="none" stroke="#111" stroke-width="1.05"/>
<circle cx="397.10" cy="604.10" r="2.2" fill="none" stroke="#111" stroke-width="1.05"/>
<circle cx="402.92" cy="608.70" r="2.2" fill="none" stroke="#111" stroke-width="1.05"/>
<circle cx="408.74" cy="611.00" r="2.2" fill="none" stroke="#111" stroke-width="1.05"/>
<circle cx="414.56" cy="609.90" r="2.2" fill="none" stroke="#111" stroke-width="1.05"/>
<circle cx="420.37" cy="611.00" r="2.2" fill="none" stroke="#111" stroke-width="1.05"/>
<circle cx="426.19" cy="613.90" r="2.2" fill="none" stroke="#111" stroke-width="1.05"/>
<circle cx="432.01" cy="616.70" r="2.2" fill="none" stroke="#111" stroke-width="1.05"/>
<circle cx="437.82" cy="607.90" r="2.2" fill="none" stroke="#111" stroke-width="1.05"/>
<circle cx="443.64" cy="611.30" r="2.2" fill="none" stroke="#111" stroke-width="1.05"/>
<circle cx="449.46" cy="606.00" r="2.2" fill="none" stroke="#111" stroke-width="1.05"/>
<circle cx="455.27" cy="602.90" r="2.2" fill="none" stroke="#111" stroke-width="1.05"/>
<circle cx="461.09" cy="607.90" r="2.2" fill="none" stroke="#111" stroke-width="1.05"/>
<circle cx="466.91" cy="606.90" r="2.2" fill="none" stroke="#111" stroke-width="1.05"/>
<circle cx="472.73" cy="602.90" r="2.2" fill="none" stroke="#111" stroke-width="1.05"/>
<circle cx="478.54" cy="608.60" r="2.2" fill="none" stroke="#111" stroke-width="1.05"/>
<circle cx="484.36" cy="607.50" r="2.2" fill="none" stroke="#111" stroke-width="1.05"/>
<circle cx="490.18" cy="611.30" r="2.2" fill="none" stroke="#111" stroke-width="1.05"/>
<circle cx="495.99" cy="611.30" r="2.2" fill="none" stroke="#111" stroke-width="1.05"/>
<circle cx="501.81" cy="622.20" r="2.2" fill="none" stroke="#111" stroke-width="1.05"/>
<circle cx="507.63" cy="625.30" r="2.2" fill="none" stroke="#111" stroke-width="1.05"/>
<circle cx="513.44" cy="619.70" r="2.2" fill="none" stroke="#111" stroke-width="1.05"/>
<circle cx="519.26" cy="646.30" r="2.2" fill="none" stroke="#111" stroke-width="1.05"/>
<circle cx="525.08" cy="631.00" r="2.2" fill="none" stroke="#111" stroke-width="1.05"/>
<circle cx="530.89" cy="638.50" r="2.2" fill="none" stroke="#111" stroke-width="1.05"/>
<circle cx="536.71" cy="633.70" r="2.2" fill="none" stroke="#111" stroke-width="1.05"/>
<circle cx="327.30" cy="633.20" r="2.2" fill="none" stroke="#e8262a" stroke-width="1.05"/>
<circle cx="333.12" cy="615.50" r="2.2" fill="none" stroke="#e8262a" stroke-width="1.05"/>
<circle cx="338.93" cy="627.00" r="2.2" fill="none" stroke="#e8262a" stroke-width="1.05"/>
<circle cx="344.75" cy="611.00" r="2.2" fill="none" stroke="#e8262a" stroke-width="1.05"/>
<circle cx="350.57" cy="630.10" r="2.2" fill="none" stroke="#e8262a" stroke-width="1.05"/>
<circle cx="356.38" cy="625.50" r="2.2" fill="none" stroke="#e8262a" stroke-width="1.05"/>
<circle cx="362.20" cy="631.10" r="2.2" fill="none" stroke="#e8262a" stroke-width="1.05"/>
<circle cx="368.02" cy="621.30" r="2.2" fill="none" stroke="#e8262a" stroke-width="1.05"/>
<circle cx="373.84" cy="611.00" r="2.2" fill="none" stroke="#e8262a" stroke-width="1.05"/>
<circle cx="379.65" cy="605.10" r="2.2" fill="none" stroke="#e8262a" stroke-width="1.05"/>
<circle cx="385.47" cy="601.00" r="2.2" fill="none" stroke="#e8262a" stroke-width="1.05"/>
<circle cx="391.29" cy="596.20" r="2.2" fill="none" stroke="#e8262a" stroke-width="1.05"/>
<circle cx="397.10" cy="596.20" r="2.2" fill="none" stroke="#e8262a" stroke-width="1.05"/>
<circle cx="402.92" cy="595.40" r="2.2" fill="none" stroke="#e8262a" stroke-width="1.05"/>
<circle cx="408.74" cy="592.70" r="2.2" fill="none" stroke="#e8262a" stroke-width="1.05"/>
<circle cx="414.56" cy="592.70" r="2.2" fill="none" stroke="#e8262a" stroke-width="1.05"/>
<circle cx="420.37" cy="592.30" r="2.2" fill="none" stroke="#e8262a" stroke-width="1.05"/>
<circle cx="426.19" cy="594.80" r="2.2" fill="none" stroke="#e8262a" stroke-width="1.05"/>
<circle cx="432.01" cy="594.20" r="2.2" fill="none" stroke="#e8262a" stroke-width="1.05"/>
<circle cx="437.82" cy="595.60" r="2.2" fill="none" stroke="#e8262a" stroke-width="1.05"/>
<circle cx="443.64" cy="597.50" r="2.2" fill="none" stroke="#e8262a" stroke-width="1.05"/>
<circle cx="449.46" cy="597.50" r="2.2" fill="none" stroke="#e8262a" stroke-width="1.05"/>
<circle cx="455.27" cy="594.30" r="2.2" fill="none" stroke="#e8262a" stroke-width="1.05"/>
<circle cx="461.09" cy="600.60" r="2.2" fill="none" stroke="#e8262a" stroke-width="1.05"/>
<circle cx="466.91" cy="599.60" r="2.2" fill="none" stroke="#e8262a" stroke-width="1.05"/>
<circle cx="472.73" cy="600.20" r="2.2" fill="none" stroke="#e8262a" stroke-width="1.05"/>
<circle cx="478.54" cy="601.90" r="2.2" fill="none" stroke="#e8262a" stroke-width="1.05"/>
<circle cx="484.36" cy="600.20" r="2.2" fill="none" stroke="#e8262a" stroke-width="1.05"/>
<circle cx="490.18" cy="603.70" r="2.2" fill="none" stroke="#e8262a" stroke-width="1.05"/>
<circle cx="495.99" cy="598.10" r="2.2" fill="none" stroke="#e8262a" stroke-width="1.05"/>
<circle cx="501.81" cy="608.60" r="2.2" fill="none" stroke="#e8262a" stroke-width="1.05"/>
<circle cx="507.63" cy="602.70" r="2.2" fill="none" stroke="#e8262a" stroke-width="1.05"/>
<circle cx="513.44" cy="602.30" r="2.2" fill="none" stroke="#e8262a" stroke-width="1.05"/>
<circle cx="519.26" cy="618.00" r="2.2" fill="none" stroke="#e8262a" stroke-width="1.05"/>
<circle cx="525.08" cy="607.90" r="2.2" fill="none" stroke="#e8262a" stroke-width="1.05"/>
<circle cx="530.89" cy="607.50" r="2.2" fill="none" stroke="#e8262a" stroke-width="1.05"/>
<circle cx="536.71" cy="609.20" r="2.2" fill="none" stroke="#e8262a" stroke-width="1.05"/>
</g>
<clipPath id="cpd3"><rect x="319.2" y="676.4" width="226.3" height="91.39999999999998"/></clipPath>
<g clip-path="url(#cpd3)">
<circle cx="327.30" cy="700.00" r="2.2" fill="none" stroke="#111" stroke-width="1.05"/>
<circle cx="333.12" cy="699.00" r="2.2" fill="none" stroke="#111" stroke-width="1.05"/>
<circle cx="344.75" cy="731.80" r="2.2" fill="none" stroke="#111" stroke-width="1.05"/>
<circle cx="350.57" cy="711.80" r="2.2" fill="none" stroke="#111" stroke-width="1.05"/>
<circle cx="362.20" cy="681.30" r="2.2" fill="none" stroke="#111" stroke-width="1.05"/>
<circle cx="368.02" cy="680.30" r="2.2" fill="none" stroke="#111" stroke-width="1.05"/>
<circle cx="373.84" cy="686.50" r="2.2" fill="none" stroke="#111" stroke-width="1.05"/>
<circle cx="379.65" cy="687.50" r="2.2" fill="none" stroke="#111" stroke-width="1.05"/>
<circle cx="385.47" cy="689.60" r="2.2" fill="none" stroke="#111" stroke-width="1.05"/>
<circle cx="391.29" cy="702.10" r="2.2" fill="none" stroke="#111" stroke-width="1.05"/>
<circle cx="397.10" cy="708.90" r="2.2" fill="none" stroke="#111" stroke-width="1.05"/>
<circle cx="402.92" cy="701.40" r="2.2" fill="none" stroke="#111" stroke-width="1.05"/>
<circle cx="408.74" cy="693.80" r="2.2" fill="none" stroke="#111" stroke-width="1.05"/>
<circle cx="414.56" cy="702.10" r="2.2" fill="none" stroke="#111" stroke-width="1.05"/>
<circle cx="420.37" cy="700.60" r="2.2" fill="none" stroke="#111" stroke-width="1.05"/>
<circle cx="426.19" cy="701.00" r="2.2" fill="none" stroke="#111" stroke-width="1.05"/>
<circle cx="432.01" cy="699.90" r="2.2" fill="none" stroke="#111" stroke-width="1.05"/>
<circle cx="437.82" cy="718.00" r="2.2" fill="none" stroke="#111" stroke-width="1.05"/>
<circle cx="443.64" cy="713.80" r="2.2" fill="none" stroke="#111" stroke-width="1.05"/>
<circle cx="449.46" cy="727.00" r="2.2" fill="none" stroke="#111" stroke-width="1.05"/>
<circle cx="455.27" cy="724.90" r="2.2" fill="none" stroke="#111" stroke-width="1.05"/>
<circle cx="461.09" cy="724.30" r="2.2" fill="none" stroke="#111" stroke-width="1.05"/>
<circle cx="466.91" cy="721.20" r="2.2" fill="none" stroke="#111" stroke-width="1.05"/>
<circle cx="472.73" cy="727.00" r="2.2" fill="none" stroke="#111" stroke-width="1.05"/>
<circle cx="478.54" cy="714.90" r="2.2" fill="none" stroke="#111" stroke-width="1.05"/>
<circle cx="484.36" cy="711.30" r="2.2" fill="none" stroke="#111" stroke-width="1.05"/>
<circle cx="490.18" cy="705.90" r="2.2" fill="none" stroke="#111" stroke-width="1.05"/>
<circle cx="495.99" cy="700.90" r="2.2" fill="none" stroke="#111" stroke-width="1.05"/>
<circle cx="501.81" cy="694.60" r="2.2" fill="none" stroke="#111" stroke-width="1.05"/>
<circle cx="507.63" cy="689.30" r="2.2" fill="none" stroke="#111" stroke-width="1.05"/>
<circle cx="513.44" cy="694.40" r="2.2" fill="none" stroke="#111" stroke-width="1.05"/>
<circle cx="519.26" cy="684.90" r="2.2" fill="none" stroke="#111" stroke-width="1.05"/>
<circle cx="525.08" cy="690.20" r="2.2" fill="none" stroke="#111" stroke-width="1.05"/>
<circle cx="530.89" cy="686.00" r="2.2" fill="none" stroke="#111" stroke-width="1.05"/>
<circle cx="536.71" cy="688.10" r="2.2" fill="none" stroke="#111" stroke-width="1.05"/>
<circle cx="327.30" cy="706.20" r="2.2" fill="none" stroke="#e8262a" stroke-width="1.05"/>
<circle cx="333.12" cy="705.80" r="2.2" fill="none" stroke="#e8262a" stroke-width="1.05"/>
<circle cx="338.93" cy="712.50" r="2.2" fill="none" stroke="#e8262a" stroke-width="1.05"/>
<circle cx="344.75" cy="761.90" r="2.2" fill="none" stroke="#e8262a" stroke-width="1.05"/>
<circle cx="350.57" cy="711.80" r="2.2" fill="none" stroke="#e8262a" stroke-width="1.05"/>
<circle cx="356.38" cy="687.50" r="2.2" fill="none" stroke="#e8262a" stroke-width="1.05"/>
<circle cx="362.20" cy="683.40" r="2.2" fill="none" stroke="#e8262a" stroke-width="1.05"/>
<circle cx="368.02" cy="687.50" r="2.2" fill="none" stroke="#e8262a" stroke-width="1.05"/>
<circle cx="373.84" cy="701.00" r="2.2" fill="none" stroke="#e8262a" stroke-width="1.05"/>
<circle cx="379.65" cy="706.80" r="2.2" fill="none" stroke="#e8262a" stroke-width="1.05"/>
<circle cx="385.47" cy="714.90" r="2.2" fill="none" stroke="#e8262a" stroke-width="1.05"/>
<circle cx="391.29" cy="728.40" r="2.2" fill="none" stroke="#e8262a" stroke-width="1.05"/>
<circle cx="397.10" cy="731.60" r="2.2" fill="none" stroke="#e8262a" stroke-width="1.05"/>
<circle cx="402.92" cy="734.70" r="2.2" fill="none" stroke="#e8262a" stroke-width="1.05"/>
<circle cx="408.74" cy="732.80" r="2.2" fill="none" stroke="#e8262a" stroke-width="1.05"/>
<circle cx="414.56" cy="748.40" r="2.2" fill="none" stroke="#e8262a" stroke-width="1.05"/>
<circle cx="420.37" cy="753.60" r="2.2" fill="none" stroke="#e8262a" stroke-width="1.05"/>
<circle cx="426.19" cy="755.00" r="2.2" fill="none" stroke="#e8262a" stroke-width="1.05"/>
<circle cx="432.01" cy="764.40" r="2.2" fill="none" stroke="#e8262a" stroke-width="1.05"/>
<circle cx="437.82" cy="765.20" r="2.2" fill="none" stroke="#e8262a" stroke-width="1.05"/>
<circle cx="443.64" cy="763.50" r="2.2" fill="none" stroke="#e8262a" stroke-width="1.05"/>
<circle cx="449.46" cy="762.00" r="2.2" fill="none" stroke="#e8262a" stroke-width="1.05"/>
<circle cx="455.27" cy="757.80" r="2.2" fill="none" stroke="#e8262a" stroke-width="1.05"/>
<circle cx="461.09" cy="750.50" r="2.2" fill="none" stroke="#e8262a" stroke-width="1.05"/>
<circle cx="466.91" cy="744.20" r="2.2" fill="none" stroke="#e8262a" stroke-width="1.05"/>
<circle cx="472.73" cy="735.80" r="2.2" fill="none" stroke="#e8262a" stroke-width="1.05"/>
<circle cx="478.54" cy="733.30" r="2.2" fill="none" stroke="#e8262a" stroke-width="1.05"/>
<circle cx="484.36" cy="729.10" r="2.2" fill="none" stroke="#e8262a" stroke-width="1.05"/>
<circle cx="490.18" cy="719.50" r="2.2" fill="none" stroke="#e8262a" stroke-width="1.05"/>
<circle cx="495.99" cy="725.00" r="2.2" fill="none" stroke="#e8262a" stroke-width="1.05"/>
<circle cx="501.81" cy="712.20" r="2.2" fill="none" stroke="#e8262a" stroke-width="1.05"/>
<circle cx="507.63" cy="716.60" r="2.2" fill="none" stroke="#e8262a" stroke-width="1.05"/>
<circle cx="513.44" cy="720.50" r="2.2" fill="none" stroke="#e8262a" stroke-width="1.05"/>
<circle cx="519.26" cy="704.40" r="2.2" fill="none" stroke="#e8262a" stroke-width="1.05"/>
<circle cx="525.08" cy="717.00" r="2.2" fill="none" stroke="#e8262a" stroke-width="1.05"/>
<circle cx="530.89" cy="712.20" r="2.2" fill="none" stroke="#e8262a" stroke-width="1.05"/>
<circle cx="536.71" cy="711.80" r="2.2" fill="none" stroke="#e8262a" stroke-width="1.05"/>
</g>
<clipPath id="cpe"><rect x="51.5" y="810.7" width="208.60000000000002" height="195.5"/></clipPath>
<g clip-path="url(#cpe)" shape-rendering="crispEdges">
<rect x="59.70" y="892.80" width="5.9" height="59.70" fill="#0606f2"/>
<rect x="71.40" y="919.50" width="5.9" height="44.30" fill="#0606f2"/>
<rect x="83.10" y="847.20" width="5.9" height="70.60" fill="#0606f2"/>
<rect x="83.10" y="920.80" width="5.9" height="45.00" fill="#0606f2"/>
<rect x="83.10" y="967.20" width="5.9" height="39.00" fill="#0606f2"/>
<rect x="88.95" y="866.80" width="5.9" height="51.30" fill="#0606f2"/>
<rect x="94.80" y="868.00" width="5.9" height="59.60" fill="#0606f2"/>
<rect x="100.65" y="875.90" width="5.9" height="94.10" fill="#1aab00"/>
<rect x="106.50" y="872.20" width="5.9" height="112.50" fill="#1aab00"/>
<rect x="112.35" y="840.50" width="5.9" height="52.30" fill="#ebb83e"/>
<rect x="112.35" y="892.80" width="5.9" height="70.10" fill="#00a200"/>
<rect x="118.20" y="842.50" width="5.9" height="60.20" fill="#ebb83e"/>
<rect x="118.20" y="902.70" width="5.9" height="78.90" fill="#00a200"/>
<rect x="124.05" y="842.00" width="5.9" height="82.10" fill="#ebb83e"/>
<rect x="129.90" y="840.30" width="5.9" height="86.40" fill="#ebb83e"/>
<rect x="135.75" y="910.70" width="5.9" height="51.10" fill="#1aab00"/>
<rect x="141.60" y="856.70" width="5.9" height="70.20" fill="#ebb83e"/>
<rect x="147.45" y="833.50" width="5.9" height="99.80" fill="#ebb83e"/>
<rect x="153.30" y="832.20" width="5.9" height="106.80" fill="#ebb83e"/>
<rect x="159.15" y="829.30" width="5.9" height="107.10" fill="#ebb83e"/>
<rect x="165.00" y="829.30" width="5.9" height="107.20" fill="#e9b05a"/>
<rect x="170.85" y="830.00" width="5.9" height="112.80" fill="#e9b05a"/>
<rect x="176.70" y="823.50" width="5.9" height="119.80" fill="#eab27a"/>
<rect x="182.55" y="823.50" width="5.9" height="116.60" fill="#eab27a"/>
<rect x="188.40" y="822.20" width="5.9" height="113.70" fill="#ecac90"/>
<rect x="194.25" y="822.20" width="5.9" height="117.90" fill="#ecac90"/>
<rect x="194.25" y="940.60" width="5.9" height="45.20" fill="#40b900"/>
<rect x="200.10" y="820.50" width="5.9" height="115.40" fill="#f4d4d6"/>
<rect x="200.10" y="935.40" width="5.9" height="46.60" fill="#88d200"/>
<rect x="205.95" y="820.50" width="5.9" height="116.30" fill="#f4d4d6"/>
<rect x="205.95" y="938.80" width="5.9" height="43.90" fill="#1aab00"/>
<rect x="211.80" y="820.50" width="5.9" height="116.80" fill="#f4d4d6"/>
<rect x="217.65" y="818.40" width="5.9" height="123.10" fill="#f2c2b2"/>
<rect x="223.50" y="817.50" width="5.9" height="131.10" fill="#f2c2b2"/>
<rect x="229.35" y="816.00" width="5.9" height="133.50" fill="#ecac90"/>
<rect x="235.20" y="815.60" width="5.9" height="137.70" fill="#ecac90"/>
<rect x="241.05" y="814.70" width="5.9" height="136.70" fill="#ecac90"/>
<rect x="246.90" y="813.70" width="5.9" height="133.90" fill="#ecac90"/>
<rect x="252.75" y="812.80" width="5.9" height="131.70" fill="#ecac90"/>
<rect x="258.60" y="812.20" width="5.9" height="141.10" fill="#ecac90"/>
<rect x="246.4" y="814.7" width="5.5" height="3.7" fill="#fff"/>
</g>
<g clip-path="url(#cpe)">
<path d="M48.00,855.60H53.85M53.85,853.40H59.70M59.70,850.50H65.55M65.55,848.30H71.40M71.40,846.60H77.25M77.25,847.20H83.10M83.10,844.00H88.95M88.95,842.20H94.80M94.80,843.20H100.65M100.65,843.20H106.50M106.50,843.20H112.35M112.35,840.30H118.20M118.20,837.50H124.05M124.05,835.20H129.90M129.90,835.50H135.75M135.75,835.50H141.60M141.60,836.00H147.45M147.45,833.50H153.30M153.30,832.20H159.15M159.15,829.30H165.00M165.00,829.30H170.85M170.85,830.00H176.70M176.70,823.50H182.55M182.55,823.50H188.40M188.40,822.20H194.25M194.25,822.20H200.10M200.10,820.50H205.95M205.95,820.50H211.80M211.80,820.50H217.65M217.65,818.40H223.50M223.50,817.50H229.35M229.35,816.00H235.20M235.20,815.60H241.05M241.05,814.70H246.90M246.90,813.70H252.75M252.75,812.80H258.60M258.60,812.20H264.45" stroke="#666" stroke-width="1.0" fill="none"/>
<path d="M48.00,858.00H52.50M53.85,856.20H58.35M59.70,853.30H64.20" stroke="#999" stroke-width="0.8" fill="none"/>
<path d="M147.6,835.2L149.3,843.7L153.5,845.4L156.9,850.4L162.3,855.5L167.0,856.3L170.0,858.2L175.1,864.1L180.1,868.3L186.9,866.6L195.4,867.5L203.8,867.5L208.9,870.0L214.8,875.1L219.9,874.2L225.8,876.8L231.9,881.2L237.5,878.9L245.0,879.3L254.3,882.7L260.1,874.6" fill="none" stroke="#4d84e4" stroke-width="0.95" stroke-linejoin="round"/>
<path d="M118.0,1005.5L122.0,1004.6L129.4,1005.3L138.8,1003.4L150.0,1001.5L157.6,1003.4L168.8,1003.0L180.1,1001.2L191.4,1001.9L200.0,1000.0L215.0,1001.0L220.6,996.3L229.0,1000.0L237.5,997.3L246.8,998.8L254.3,996.3L260.1,998.2" fill="none" stroke="#4d84e4" stroke-width="0.95" stroke-linejoin="round"/>
<path d="M73.6,867.1L76.2,868.8L80.4,872.2L82.9,880.6L85.4,894.1L86.3,902.6L83.8,911.0L80.4,913.5L77.0,907.6L75.3,897.5L74.5,884.0L73.6,873.9L73.6,867.1" fill="none" stroke="#4d84e4" stroke-width="0.95" stroke-linejoin="round"/>
<path d="M75.1,938.7L81.7,938.7L88.3,942.6L92.1,943.7L93.0,950.8L91.5,956.2L88.3,963.9L87.7,973.7L86.1,980.3L81.7,980.8L75.7,979.2L72.4,973.7L70.2,962.8L69.7,954.0L71.9,943.1L75.1,938.7" fill="none" stroke="#4d84e4" stroke-width="0.95" stroke-linejoin="round"/>
<path d="M51.3,949.1L56.6,957.3L64.2,966.6L65.3,973.7L65.8,990.1L67.5,1005.4" fill="none" stroke="#4d84e4" stroke-width="0.95" stroke-linejoin="round"/>
<path d="M51.3,970.4L55.5,978.1L59.8,986.8L60.9,993.4L58.7,1000.0L54.4,1000.0L51.3,997.2" fill="none" stroke="#4d84e4" stroke-width="0.95" stroke-linejoin="round"/>
<path d="M70.2,1005.4L76.2,1001.0L80.6,992.8L82.8,1000.0L83.9,1005.4" fill="none" stroke="#4d84e4" stroke-width="0.95" stroke-linejoin="round"/>
<path d="M118.5,837.5L121.0,841.5L125.0,837.5L127.0,836.5" fill="none" stroke="#4d84e4" stroke-width="0.95" stroke-linejoin="round"/>
<path d="M131.0,839.5L133.0,841.5L135.0,839.5" fill="none" stroke="#4d84e4" stroke-width="0.95" stroke-linejoin="round"/>
<ellipse cx="62.7" cy="909.4" rx="1.5" ry="12.5" fill="none" stroke="#7aa0f0" stroke-width="0.7"/>
<path d="M94.7,857.0L97.3,853.6L100.6,857.0L104.0,862.1L109.1,861.2L110.8,866.3L111.6,873.9L112.4,885.7L115.0,890.8L115.8,897.5L115.0,899.8L113.3,894.1L110.3,889.6L107.7,886.4L106.2,880.0L104.9,877.3L100.6,874.7L98.1,875.6L95.6,870.5L94.2,863.8L94.7,857.0" fill="none" stroke="#e3161c" stroke-width="1.1" stroke-linejoin="round"/>
<path d="M260.1,916.4L252.5,915.8L243.1,915.2L237.5,918.1L232.8,914.9L226.2,913.9L219.9,912.6L213.9,917.3L209.7,914.8L203.0,913.4L195.4,908.9L186.9,911.4L178.5,912.2L167.9,913.8L161.9,904.5L156.0,915.5L150.1,907.0L142.5,909.6L138.3,904.5L133.2,905.3L132.4,906.2L131.5,912.1L133.2,917.2L138.3,920.6L145.0,925.6L151.8,930.7L158.6,932.4L167.0,930.7L172.1,934.9L178.0,936.6L185.2,940.1L195.4,944.4L202.1,943.5L208.9,948.6L213.9,955.3L219.9,958.4L226.2,953.3L231.9,948.2L239.3,956.0L243.1,958.0L249.6,958.9L255.3,970.1L260.1,968.2" fill="none" stroke="#e3161c" stroke-width="1.1" stroke-linejoin="round"/>
</g>
<rect x="51.5" y="810.7" width="208.60000000000002" height="195.5" fill="none" stroke="#333" stroke-width="1"/>
<line x1="51.50" y1="1006.10" x2="56.00" y2="1006.10" stroke="#3a3a3a" stroke-width="1" stroke-linecap="butt"/>
<text transform="translate(47.70,1011.10) scale(0.8,1)" font-family="Liberation Sans" font-size="12.2" text-anchor="end">0</text>
<line x1="51.50" y1="954.25" x2="56.00" y2="954.25" stroke="#3a3a3a" stroke-width="1" stroke-linecap="butt"/>
<text transform="translate(47.70,959.25) scale(0.8,1)" font-family="Liberation Sans" font-size="12.2" text-anchor="end">1</text>
<line x1="51.50" y1="902.40" x2="56.00" y2="902.40" stroke="#3a3a3a" stroke-width="1" stroke-linecap="butt"/>
<text transform="translate(47.70,907.40) scale(0.8,1)" font-family="Liberation Sans" font-size="12.2" text-anchor="end">2</text>
<line x1="51.50" y1="850.55" x2="56.00" y2="850.55" stroke="#3a3a3a" stroke-width="1" stroke-linecap="butt"/>
<text transform="translate(47.70,855.55) scale(0.8,1)" font-family="Liberation Sans" font-size="12.2" text-anchor="end">3</text>
<line x1="50.80" y1="1006.20" x2="50.80" y2="1002.20" stroke="#3a3a3a" stroke-width="1" stroke-linecap="butt"/>
<text transform="translate(50.80,1021.20) scale(0.8,1)" font-family="Liberation Sans" font-size="12.2" text-anchor="middle">0</text>
<line x1="85.35" y1="1006.20" x2="85.35" y2="1002.20" stroke="#3a3a3a" stroke-width="1" stroke-linecap="butt"/>
<text transform="translate(85.35,1021.20) scale(0.8,1)" font-family="Liberation Sans" font-size="12.2" text-anchor="middle">1</text>
<line x1="119.90" y1="1006.20" x2="119.90" y2="1002.20" stroke="#3a3a3a" stroke-width="1" stroke-linecap="butt"/>
<text transform="translate(119.90,1021.20) scale(0.8,1)" font-family="Liberation Sans" font-size="12.2" text-anchor="middle">2</text>
<line x1="154.45" y1="1006.20" x2="154.45" y2="1002.20" stroke="#3a3a3a" stroke-width="1" stroke-linecap="butt"/>
<text transform="translate(154.45,1021.20) scale(0.8,1)" font-family="Liberation Sans" font-size="12.2" text-anchor="middle">3</text>
<line x1="189.00" y1="1006.20" x2="189.00" y2="1002.20" stroke="#3a3a3a" stroke-width="1" stroke-linecap="butt"/>
<text transform="translate(189.00,1021.20) scale(0.8,1)" font-family="Liberation Sans" font-size="12.2" text-anchor="middle">4</text>
<line x1="223.55" y1="1006.20" x2="223.55" y2="1002.20" stroke="#3a3a3a" stroke-width="1" stroke-linecap="butt"/>
<text transform="translate(223.55,1021.20) scale(0.8,1)" font-family="Liberation Sans" font-size="12.2" text-anchor="middle">5</text>
<line x1="258.10" y1="1006.20" x2="258.10" y2="1002.20" stroke="#3a3a3a" stroke-width="1" stroke-linecap="butt"/>
<text transform="translate(258.10,1021.20) scale(0.8,1)" font-family="Liberation Sans" font-size="12.2" text-anchor="middle">6</text>
<text transform="translate(150.50,1033.20) scale(0.92,1)" font-family="Liberation Sans" font-size="11" text-anchor="middle">Time, <tspan font-style="italic" font-weight="bold">t</tspan> (h)</text>
<text transform="translate(36.20,919.30) rotate(-90) scale(0.97,1)" font-family="Liberation Sans" font-size="12.6" text-anchor="middle">Curvilinear length, <tspan font-style="italic">s</tspan> (mm)</text>
<clipPath id="cpf"><rect x="327.6" y="810.8" width="209.5" height="195.20000000000005"/></clipPath>
<g clip-path="url(#cpf)" shape-rendering="crispEdges">
<rect x="324.70" y="940.90" width="5.87" height="34.90" fill="#0606f2"/>
<rect x="330.52" y="898.00" width="5.87" height="39.80" fill="#0606f2"/>
<rect x="330.52" y="957.00" width="5.87" height="47.00" fill="#0606f2"/>
<rect x="336.34" y="877.80" width="5.87" height="105.80" fill="#0606f2"/>
<rect x="342.16" y="898.60" width="5.87" height="34.20" fill="#0606f2"/>
<rect x="342.16" y="947.20" width="5.87" height="31.10" fill="#0606f2"/>
<rect x="347.98" y="894.90" width="5.87" height="38.90" fill="#0606f2"/>
<rect x="347.98" y="956.50" width="5.87" height="47.70" fill="#0606f2"/>
<rect x="353.80" y="855.00" width="5.87" height="59.10" fill="#0606f2"/>
<rect x="353.80" y="970.50" width="5.87" height="33.00" fill="#0606f2"/>
<rect x="359.62" y="851.10" width="5.87" height="112.50" fill="#0606f2"/>
<rect x="365.44" y="860.20" width="5.87" height="103.40" fill="#0606f2"/>
<rect x="371.26" y="873.80" width="5.87" height="65.50" fill="#0606f2"/>
<rect x="371.26" y="970.50" width="5.87" height="33.00" fill="#0606f2"/>
<rect x="377.08" y="872.40" width="5.87" height="73.60" fill="#0606f2"/>
<rect x="377.08" y="969.50" width="5.87" height="34.00" fill="#0606f2"/>
<rect x="382.90" y="842.20" width="5.87" height="30.20" fill="#f4d4d6"/>
<rect x="382.90" y="872.40" width="5.87" height="82.40" fill="#0606f2"/>
<rect x="382.90" y="972.00" width="5.87" height="31.50" fill="#0606f2"/>
<rect x="388.72" y="842.20" width="5.87" height="35.10" fill="#f4d4d6"/>
<rect x="388.72" y="877.30" width="5.87" height="66.50" fill="#0606f2"/>
<rect x="388.72" y="971.40" width="5.87" height="30.10" fill="#0606f2"/>
<rect x="394.54" y="841.30" width="5.87" height="40.60" fill="#ecac90"/>
<rect x="394.54" y="881.90" width="5.87" height="61.90" fill="#0606f2"/>
<rect x="400.36" y="841.60" width="5.87" height="40.70" fill="#f2c2b2"/>
<rect x="400.36" y="882.30" width="5.87" height="61.50" fill="#0606f2"/>
<rect x="406.18" y="847.70" width="5.87" height="32.80" fill="#ff0000"/>
<rect x="406.18" y="880.50" width="5.87" height="66.50" fill="#0606f2"/>
<rect x="412.00" y="838.00" width="5.87" height="46.60" fill="#f4d4d6"/>
<rect x="412.00" y="884.60" width="5.87" height="62.80" fill="#0606f2"/>
<rect x="417.82" y="836.30" width="5.87" height="50.10" fill="#eee3e2"/>
<rect x="417.82" y="886.40" width="5.87" height="62.80" fill="#0606f2"/>
<rect x="423.64" y="848.50" width="5.87" height="38.80" fill="#ecac90"/>
<rect x="423.64" y="887.30" width="5.87" height="61.90" fill="#0606f2"/>
<rect x="429.46" y="841.20" width="5.87" height="43.40" fill="#eee3e2"/>
<rect x="429.46" y="884.60" width="5.87" height="67.50" fill="#1aab00"/>
<rect x="435.28" y="834.00" width="5.87" height="54.30" fill="#f4d4d6"/>
<rect x="435.28" y="888.30" width="5.87" height="63.80" fill="#00a200"/>
<rect x="441.10" y="839.40" width="5.87" height="47.00" fill="#f4d4d6"/>
<rect x="441.10" y="886.40" width="5.87" height="69.70" fill="#40b900"/>
<rect x="446.92" y="835.80" width="5.87" height="53.40" fill="#f2c2b2"/>
<rect x="446.92" y="887.30" width="5.87" height="69.70" fill="#40b900"/>
<rect x="452.74" y="848.30" width="5.87" height="44.10" fill="#ecac90"/>
<rect x="452.74" y="892.40" width="5.87" height="65.70" fill="#40b900"/>
<rect x="458.56" y="848.30" width="5.87" height="43.20" fill="#ecac90"/>
<rect x="458.56" y="891.50" width="5.87" height="65.50" fill="#62c200"/>
<rect x="464.38" y="853.00" width="5.87" height="43.20" fill="#e9b05a"/>
<rect x="464.38" y="898.00" width="5.87" height="59.20" fill="#88d200"/>
<rect x="470.20" y="843.60" width="5.87" height="51.60" fill="#ecac90"/>
<rect x="470.20" y="909.30" width="5.87" height="46.90" fill="#62c200"/>
<rect x="476.02" y="841.80" width="5.87" height="42.20" fill="#f2c2b2"/>
<rect x="476.02" y="908.40" width="5.87" height="47.80" fill="#88d200"/>
<rect x="481.84" y="850.20" width="5.87" height="43.20" fill="#ecac90"/>
<rect x="481.84" y="912.20" width="5.87" height="45.00" fill="#88d200"/>
<rect x="487.66" y="848.40" width="5.87" height="55.30" fill="#eab27a"/>
<rect x="487.66" y="916.90" width="5.87" height="40.30" fill="#88d200"/>
<rect x="493.48" y="824.00" width="5.87" height="33.70" fill="#ff0000"/>
<rect x="493.48" y="857.70" width="5.87" height="47.00" fill="#eab27a"/>
<rect x="493.48" y="914.10" width="5.87" height="44.10" fill="#b2da00"/>
<rect x="499.30" y="824.00" width="5.87" height="33.70" fill="#ff0000"/>
<rect x="499.30" y="857.70" width="5.87" height="58.20" fill="#ebb83e"/>
<rect x="499.30" y="926.30" width="5.87" height="30.00" fill="#88d200"/>
<rect x="499.30" y="963.80" width="5.87" height="29.10" fill="#ff0000"/>
<rect x="505.12" y="854.00" width="5.87" height="61.90" fill="#ebb83e"/>
<rect x="505.12" y="925.30" width="5.87" height="31.00" fill="#b2da00"/>
<rect x="510.94" y="815.90" width="5.87" height="41.80" fill="#ff0000"/>
<rect x="510.94" y="857.70" width="5.87" height="62.90" fill="#ebb83e"/>
<rect x="510.94" y="924.40" width="5.87" height="34.70" fill="#b2da00"/>
<rect x="516.76" y="847.40" width="5.87" height="68.50" fill="#e9b05a"/>
<rect x="522.58" y="850.20" width="5.87" height="88.30" fill="#ebb83e"/>
<rect x="528.40" y="850.20" width="5.87" height="88.30" fill="#ebb83e"/>
<rect x="534.22" y="842.70" width="5.87" height="96.70" fill="#ebb83e"/>
<rect x="534.22" y="939.40" width="5.87" height="33.80" fill="#88d200"/>
</g>
<g clip-path="url(#cpf)">
<path d="M324.70,863.30H330.52M330.52,863.30H336.34M336.34,861.30H342.16M342.16,862.00H347.98M347.98,856.60H353.80M353.80,850.20H359.62M359.62,849.20H365.44M365.44,849.00H371.26M371.26,846.90H377.08M377.08,844.80H382.90M382.90,842.20H388.72M388.72,842.20H394.54M394.54,841.30H400.36M400.36,842.20H406.18M406.18,842.20H412.00M412.00,838.00H417.82M417.82,836.20H423.64M423.64,835.00H429.46M429.46,833.50H435.28M435.28,832.50H441.10M441.10,830.50H446.92M446.92,829.50H452.74M452.74,828.50H458.56M458.56,827.00H464.38M464.38,825.50H470.20M470.20,824.00H476.02M476.02,823.00H481.84M481.84,821.50H487.66M487.66,820.80H493.48M493.48,819.50H499.30M499.30,818.30H505.12M505.12,817.50H510.94M510.94,816.40H516.76M516.76,815.50H522.58M522.58,814.60H528.40M528.40,813.50H534.22M534.22,812.70H540.04" stroke="#666" stroke-width="1.0" fill="none"/>
<path d="M353.9,855.0L356.5,863.6L358.9,873.1L362.8,880.2L367.6,884.1L372.3,885.7L377.0,890.4L381.8,895.2L387.3,899.1L390.7,900.2L397.2,903.6L408.1,907.2L418.9,913.6L429.8,918.1L438.8,923.5L444.3,927.5L449.7,928.0L455.1,933.5L462.5,939.3L472.8,947.8L466.3,953.4L455.0,958.1L449.7,957.9L442.5,959.3L433.4,959.7L426.2,963.7L418.9,961.9L411.7,965.1L404.5,967.8L397.2,972.4L390.0,975.1L383.3,975.6L379.4,981.1L375.4,977.2L370.7,977.2L362.8,978.0L356.5,980.3L351.0,983.5L345.5,978.7L340.8,981.9L334.5,982.7L327.7,984.3" fill="none" stroke="#4d84e4" stroke-width="0.95" stroke-linejoin="round"/>
<path d="M384.0,842.2L385.0,844.1L392.0,850.5L397.1,847.7L403.5,846.7L408.6,848.6L415.0,849.9L425.0,850.2L433.4,854.4L442.5,855.7L447.9,858.4L452.4,857.0L455.0,855.8L464.4,857.2L473.8,858.7L483.1,857.2L492.5,858.3L498.2,857.2L503.8,856.4L511.3,855.8L515.0,853.0L519.7,861.5L522.5,853.0L526.3,850.8L530.0,853.0L537.0,846.5" fill="none" stroke="#4d84e4" stroke-width="0.95" stroke-linejoin="round"/>
<path d="M337.2,913.8L341.2,913.8" fill="none" stroke="#4d84e4" stroke-width="0.95" stroke-linejoin="round"/>
<path d="M385.6,873.5L389.4,876.0L393.3,877.3L397.1,880.8L400.9,876.0L406.0,871.5L411.1,872.2L414.9,876.0L421.3,877.3L426.2,879.2L433.4,880.1L442.5,881.9L449.7,884.6L455.1,887.3L458.5,888.0L460.5,893.0L459.5,900.0L457.5,906.5L456.0,907.2L451.5,901.5L446.1,900.0L439.7,901.8L434.3,899.1L428.9,901.5L421.7,901.5L413.7,899.0L406.0,896.4L399.6,892.6L393.3,887.5L389.4,881.1L385.6,873.5" fill="none" stroke="#e3161c" stroke-width="1.1" stroke-linejoin="round"/>
<path d="M327.7,1003.0L334.5,1001.5L340.8,1002.5L345.5,1002.0L351.0,1003.5L356.5,1001.0L362.8,1002.5L370.7,1003.0L375.4,1002.5L379.4,1001.0L383.3,1003.0L390.0,1003.1L395.4,1001.3L400.9,1003.1L409.9,1004.0L417.1,999.5L425.3,1004.9L429.8,997.7L435.2,1003.1L438.8,1004.9L444.3,1002.2L455.0,1001.5L465.0,1004.5L475.0,1003.5L482.0,1000.0L490.0,1000.5L495.0,1004.0L500.0,1004.0L508.0,1001.5L520.0,1003.0L530.0,1003.0L537.0,1002.0" fill="none" stroke="#e3161c" stroke-width="1.1" stroke-linejoin="round"/>
<path d="M537.0,913.5L528.0,913.0L521.0,917.0L519.7,925.0L521.5,933.0L527.0,934.5L532.0,939.0L537.0,945.0" fill="none" stroke="#e3161c" stroke-width="1.1" stroke-linejoin="round"/>
<ellipse cx="473" cy="909.3" rx="0.6" ry="3.5" fill="none" stroke="#e3161c" stroke-width="1.1"/>
<ellipse cx="489.7" cy="911.2" rx="0.6" ry="5.4" fill="none" stroke="#e3161c" stroke-width="1.1"/>
<ellipse cx="503.3" cy="923" rx="2.8" ry="8" fill="none" stroke="#e3161c" stroke-width="1.1"/>
</g>
<rect x="327.6" y="810.8" width="209.5" height="195.20000000000005" fill="none" stroke="#333" stroke-width="1"/>
<line x1="327.60" y1="1005.80" x2="332.10" y2="1005.80" stroke="#3a3a3a" stroke-width="1" stroke-linecap="butt"/>
<text transform="translate(324.00,1012.00) scale(0.8,1)" font-family="Liberation Sans" font-size="12.2" text-anchor="end">0</text>
<line x1="327.60" y1="968.25" x2="332.10" y2="968.25" stroke="#3a3a3a" stroke-width="1" stroke-linecap="butt"/>
<text transform="translate(324.00,974.45) scale(0.8,1)" font-family="Liberation Sans" font-size="12.2" text-anchor="end">1</text>
<line x1="327.60" y1="930.70" x2="332.10" y2="930.70" stroke="#3a3a3a" stroke-width="1" stroke-linecap="butt"/>
<text transform="translate(324.00,936.90) scale(0.8,1)" font-family="Liberation Sans" font-size="12.2" text-anchor="end">2</text>
<line x1="327.60" y1="893.15" x2="332.10" y2="893.15" stroke="#3a3a3a" stroke-width="1" stroke-linecap="butt"/>
<text transform="translate(324.00,899.35) scale(0.8,1)" font-family="Liberation Sans" font-size="12.2" text-anchor="end">3</text>
<line x1="327.60" y1="855.60" x2="332.10" y2="855.60" stroke="#3a3a3a" stroke-width="1" stroke-linecap="butt"/>
<text transform="translate(324.00,861.80) scale(0.8,1)" font-family="Liberation Sans" font-size="12.2" text-anchor="end">4</text>
<line x1="327.60" y1="818.05" x2="332.10" y2="818.05" stroke="#3a3a3a" stroke-width="1" stroke-linecap="butt"/>
<text transform="translate(324.00,824.25) scale(0.8,1)" font-family="Liberation Sans" font-size="12.2" text-anchor="end">5</text>
<line x1="327.00" y1="1006.00" x2="327.00" y2="1002.00" stroke="#3a3a3a" stroke-width="1" stroke-linecap="butt"/>
<text transform="translate(327.00,1021.00) scale(0.8,1)" font-family="Liberation Sans" font-size="12.2" text-anchor="middle">0</text>
<line x1="361.45" y1="1006.00" x2="361.45" y2="1002.00" stroke="#3a3a3a" stroke-width="1" stroke-linecap="butt"/>
<text transform="translate(361.45,1021.00) scale(0.8,1)" font-family="Liberation Sans" font-size="12.2" text-anchor="middle">1</text>
<line x1="395.90" y1="1006.00" x2="395.90" y2="1002.00" stroke="#3a3a3a" stroke-width="1" stroke-linecap="butt"/>
<text transform="translate(395.90,1021.00) scale(0.8,1)" font-family="Liberation Sans" font-size="12.2" text-anchor="middle">2</text>
<line x1="430.35" y1="1006.00" x2="430.35" y2="1002.00" stroke="#3a3a3a" stroke-width="1" stroke-linecap="butt"/>
<text transform="translate(430.35,1021.00) scale(0.8,1)" font-family="Liberation Sans" font-size="12.2" text-anchor="middle">3</text>
<line x1="464.80" y1="1006.00" x2="464.80" y2="1002.00" stroke="#3a3a3a" stroke-width="1" stroke-linecap="butt"/>
<text transform="translate(464.80,1021.00) scale(0.8,1)" font-family="Liberation Sans" font-size="12.2" text-anchor="middle">4</text>
<line x1="499.25" y1="1006.00" x2="499.25" y2="1002.00" stroke="#3a3a3a" stroke-width="1" stroke-linecap="butt"/>
<text transform="translate(499.25,1021.00) scale(0.8,1)" font-family="Liberation Sans" font-size="12.2" text-anchor="middle">5</text>
<line x1="533.70" y1="1006.00" x2="533.70" y2="1002.00" stroke="#3a3a3a" stroke-width="1" stroke-linecap="butt"/>
<text transform="translate(533.70,1021.00) scale(0.8,1)" font-family="Liberation Sans" font-size="12.2" text-anchor="middle">6</text>
<text transform="translate(424.50,1033.20) scale(0.92,1)" font-family="Liberation Sans" font-size="11" text-anchor="middle">Time, <tspan font-style="italic" font-weight="bold">t</tspan> (h)</text>
<text x="22.2" y="811" font-family="Liberation Sans" font-size="16" font-weight="bold">e</text>
<text x="300.8" y="811" font-family="Liberation Sans" font-size="16" font-weight="bold">f</text>
<g shape-rendering="crispEdges">
<rect x="157.7" y="1039.3" width="17.60" height="9.8" fill="#0606f2"/>
<rect x="175.0" y="1039.3" width="17.10" height="9.8" fill="#00a200"/>
<rect x="191.8" y="1039.3" width="17.00" height="9.8" fill="#1aab00"/>
<rect x="208.5" y="1039.3" width="17.00" height="9.8" fill="#40b900"/>
<rect x="225.2" y="1039.3" width="17.40" height="9.8" fill="#62c200"/>
<rect x="242.3" y="1039.3" width="17.20" height="9.8" fill="#88d200"/>
<rect x="259.2" y="1039.3" width="17.30" height="9.8" fill="#b2da00"/>
<rect x="276.2" y="1039.3" width="33.40" height="9.8" fill="#e6d40c"/>
<rect x="309.3" y="1039.3" width="17.70" height="9.8" fill="#ebb83e"/>
<rect x="326.7" y="1039.3" width="17.30" height="9.8" fill="#e9b05a"/>
<rect x="343.7" y="1039.3" width="16.80" height="9.8" fill="#eab27a"/>
<rect x="360.2" y="1039.3" width="17.40" height="9.8" fill="#ecac90"/>
<rect x="377.3" y="1039.3" width="17.30" height="9.8" fill="#f2c2b2"/>
<rect x="394.3" y="1039.3" width="17.00" height="9.8" fill="#f4d4d6"/>
<rect x="411.0" y="1039.3" width="17.00" height="9.8" fill="#eee3e2"/>
<rect x="427.7" y="1039.3" width="17.00" height="9.8" fill="#ff0000"/>
</g>
<text x="191.6" y="1062.6" font-family="Liberation Sans" font-size="12" text-anchor="middle">1.2</text>
<text x="225.0" y="1062.6" font-family="Liberation Sans" font-size="12" text-anchor="middle">0.8</text>
<text x="258.5" y="1062.6" font-family="Liberation Sans" font-size="12" text-anchor="middle">0.4</text>
<text x="293.7" y="1062.6" font-family="Liberation Sans" font-size="12" text-anchor="middle">0</text>
<text x="326.8" y="1062.6" font-family="Liberation Sans" font-size="12" text-anchor="middle">0.4</text>
<text x="360.2" y="1062.6" font-family="Liberation Sans" font-size="12" text-anchor="middle">0.8</text>
<text x="394" y="1062.6" font-family="Liberation Sans" font-size="12" text-anchor="middle">1.2</text>
<text x="427.8" y="1062.6" font-family="Liberation Sans" font-size="12" text-anchor="middle">1.6</text>
<rect x="174.4" y="1058.6" width="5.2" height="1.1" fill="#111"/>
<rect x="207.6" y="1058.6" width="5.2" height="1.1" fill="#111"/>
<rect x="240.5" y="1058.6" width="5.2" height="1.1" fill="#111"/>
<text x="144.2" y="1060.8" font-family="Liberation Serif" font-size="14" fill="#555" style="stroke:none">β</text>
</svg></body></html>
